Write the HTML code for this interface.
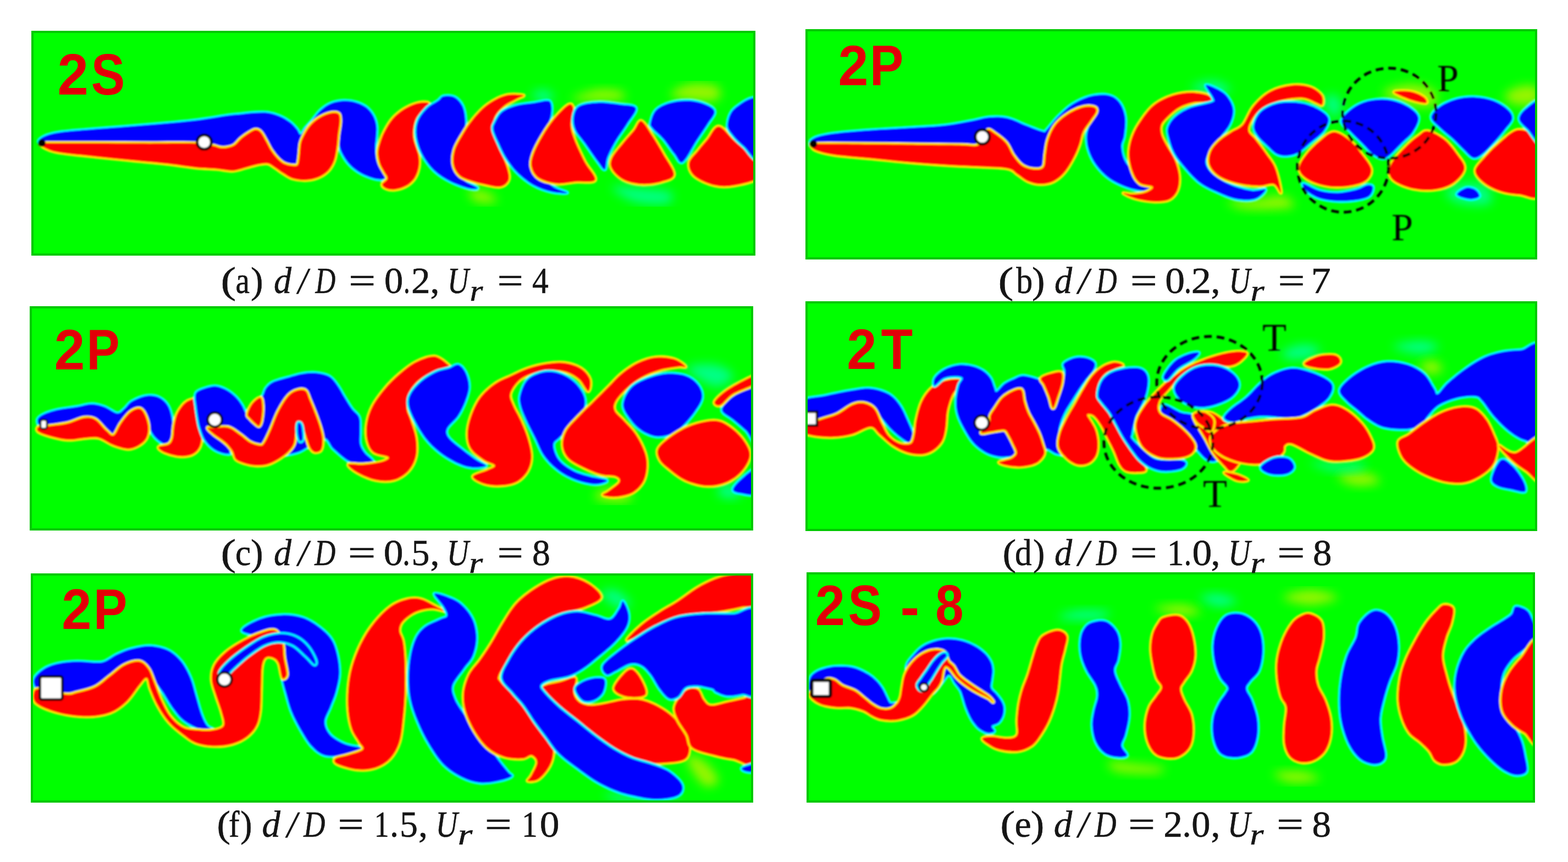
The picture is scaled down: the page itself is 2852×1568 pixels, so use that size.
<!DOCTYPE html><html><head><meta charset="utf-8"><title>Wake modes</title><style>
html,body{margin:0;padding:0;background:#fff;}body{width:2852px;height:1568px;overflow:hidden;position:relative;}
svg{position:absolute;left:0;top:0;display:block;}
.cap{font-family:"Liberation Serif",serif;fill:#151515;stroke:#151515;stroke-width:0.6px;}
.lab{font-family:"Liberation Sans",Arial,sans-serif;font-weight:bold;fill:#e20008;}
</style></head><body>
<svg width="2852" height="1568" viewBox="0 0 2852 1568">
<defs><filter id="soft" x="-2%" y="-2%" width="104%" height="104%"><feGaussianBlur stdDeviation="1.5"/></filter>
<filter id="haze" x="-50%" y="-50%" width="200%" height="200%"><feGaussianBlur stdDeviation="9"/></filter>
<clipPath id="clipa"><rect x="57" y="56" width="1317" height="409"/></clipPath>
<clipPath id="clipb"><rect x="1465" y="53" width="1331" height="419"/></clipPath>
<clipPath id="clipc"><rect x="54" y="557" width="1316" height="408"/></clipPath>
<clipPath id="clipd"><rect x="1465" y="548" width="1331" height="418"/></clipPath>
<clipPath id="clipe"><rect x="1467" y="1041" width="1325" height="419"/></clipPath>
<clipPath id="clipf"><rect x="56" y="1043" width="1314" height="417"/></clipPath>
</defs>
<g clip-path="url(#clipa)">
<rect x="57" y="56" width="1317" height="409" fill="#00ff00"/>
<g filter="url(#soft)">
<path d="M1040.0 180.0C1040.0 176.7 1071.7 165.6 1086.7 163.3C1101.7 161.1 1122.2 163.9 1130.0 166.7C1137.8 169.4 1140.6 177.2 1133.3 180.0C1126.1 182.8 1102.2 183.3 1086.7 183.3C1071.1 183.3 1040.0 183.3 1040.0 180.0Z" fill="#ffee00" filter="url(#haze)" opacity="0.6"/>
<path d="M1220.0 173.3C1217.2 168.3 1239.4 156.1 1253.3 153.3C1267.2 150.6 1294.4 152.2 1303.3 156.7C1312.2 161.1 1312.2 175.6 1306.7 180.0C1301.1 184.4 1284.4 184.4 1270.0 183.3C1255.6 182.2 1222.8 178.3 1220.0 173.3Z" fill="#ffee00" filter="url(#haze)" opacity="0.6"/>
<path d="M1113.3 340.0C1116.1 336.1 1152.2 341.7 1170.0 343.3C1187.8 345.0 1212.8 345.6 1220.0 350.0C1227.2 354.4 1224.4 367.2 1213.3 370.0C1202.2 372.8 1170.0 371.7 1153.3 366.7C1136.7 361.7 1110.6 343.9 1113.3 340.0Z" fill="#00ffe0" filter="url(#haze)" opacity="0.6"/>
<path d="M966.7 173.3C965.6 169.4 980.0 163.3 986.7 163.3C993.3 163.3 1005.6 169.4 1006.7 173.3C1007.8 177.2 1000.0 186.7 993.3 186.7C986.7 186.7 967.8 177.2 966.7 173.3Z" fill="#00ffe0" filter="url(#haze)" opacity="0.6"/>
<path d="M853.3 346.7C856.7 343.9 878.3 346.7 886.7 350.0C895.0 353.3 906.7 363.9 903.3 366.7C900.0 369.4 875.0 370.0 866.7 366.7C858.3 363.3 850.0 349.4 853.3 346.7Z" fill="#ffee00" filter="url(#haze)" opacity="0.6"/>
<path d="M70.7 258.3C69.0 255.9 74.0 251.2 80.0 248.3C86.0 245.4 93.9 243.1 106.7 241.0C119.4 238.9 137.2 237.7 156.7 236.0C176.1 234.3 201.1 232.4 223.3 230.7C245.6 228.9 267.8 227.3 290.0 225.3C312.2 223.3 335.7 221.3 356.7 218.7C377.6 216.1 401.8 211.6 415.5 209.7C429.2 207.8 431.1 208.2 438.8 207.4C446.6 206.6 454.1 205.4 462.1 205.0C470.2 204.7 479.2 204.0 487.0 205.0C494.8 206.1 502.0 208.4 508.7 211.3C515.5 214.1 522.2 218.3 527.4 222.1C532.6 226.0 536.6 230.8 539.8 234.6C543.0 238.3 544.2 244.9 546.8 244.7C549.4 244.4 551.8 237.3 555.3 233.0C558.8 228.7 563.1 224.5 567.8 219.0C572.4 213.6 577.6 205.6 583.3 200.4C589.0 195.2 595.0 190.8 601.9 188.0C608.9 185.1 617.5 183.6 625.2 183.3C633.0 183.0 641.6 184.3 648.5 186.4C655.5 188.5 662.0 191.6 667.2 195.7C672.4 199.9 676.6 205.6 679.6 211.3C682.6 217.0 684.3 223.4 685.0 229.9C685.8 236.4 684.7 243.6 684.3 250.1C683.9 256.6 682.6 261.7 682.7 268.7C682.8 275.7 683.4 285.3 685.0 292.0C686.7 298.8 690.2 304.1 692.8 309.1C695.4 314.2 700.2 319.5 700.6 322.3C701.0 325.2 698.6 325.8 695.1 326.2C691.7 326.6 686.1 326.5 679.6 324.7C673.1 322.8 663.6 319.5 656.3 315.3C649.1 311.2 641.8 305.8 636.1 299.8C630.4 293.9 625.4 286.1 622.1 279.6C618.9 273.1 617.5 268.0 616.7 261.0C615.9 254.0 617.9 246.0 617.5 237.7C617.1 229.4 618.3 214.9 614.4 211.3C610.5 207.6 602.7 211.0 594.2 215.9C585.6 220.8 570.9 232.0 563.1 240.8C555.3 249.6 551.5 259.4 547.6 268.7C543.7 278.1 546.3 292.6 539.8 296.7C533.3 300.8 520.4 300.8 508.7 293.6C497.1 286.3 482.8 256.8 469.9 253.2C457.0 249.6 442.7 268.2 431.1 271.8C419.4 275.5 412.4 275.3 400.0 275.0C387.6 274.6 377.8 271.1 356.7 270.0C335.6 268.9 303.9 269.2 273.3 268.3C242.8 267.5 203.9 265.9 173.3 265.0C142.8 264.1 107.1 263.8 90.0 262.7C72.9 261.6 72.3 260.7 70.7 258.3Z" fill="#0000ff" stroke="#00ffff" stroke-width="7" paint-order="stroke" stroke-linejoin="round"/>
<path d="M73.3 262.7C74.6 264.2 77.8 267.6 83.3 270.0C88.9 272.4 91.7 274.8 106.7 277.3C121.7 279.8 151.1 282.6 173.3 285.0C195.6 287.4 217.8 289.4 240.0 291.7C262.2 293.9 287.2 296.1 306.7 298.3C326.1 300.6 342.2 303.5 356.7 305.0C371.1 306.5 382.2 306.4 393.3 307.3C404.4 308.3 414.4 311.0 423.3 310.7C432.2 310.3 438.8 307.2 446.6 305.2C454.4 303.3 463.2 300.3 469.9 299.0C476.6 297.7 482.1 296.6 487.0 297.5C491.9 298.4 494.8 301.5 499.4 304.5C504.1 307.4 509.5 312.0 515.0 315.3C520.4 318.7 525.3 322.6 532.0 324.7C538.8 326.7 547.6 328.0 555.3 327.8C563.1 327.5 571.7 326.0 578.6 323.1C585.6 320.3 592.4 315.9 597.3 310.7C602.2 305.5 605.6 299.0 608.2 292.0C610.7 285.0 611.7 276.5 612.8 268.7C614.0 261.0 614.2 253.2 615.1 245.4C616.1 237.7 618.0 228.3 618.3 222.1C618.5 215.9 618.6 211.0 616.7 208.2C614.8 205.3 611.1 204.8 606.6 205.0C602.1 205.3 595.0 207.4 589.5 209.7C584.1 212.0 578.6 215.4 574.0 219.0C569.3 222.7 565.2 226.8 561.6 231.5C557.9 236.1 554.7 242.1 552.2 247.0C549.8 251.9 548.1 254.8 546.8 261.0C545.5 267.2 545.4 277.8 544.5 284.3C543.6 290.7 543.4 297.0 541.4 299.8C539.3 302.7 535.9 301.6 532.0 301.4C528.2 301.1 522.5 300.3 518.1 298.3C513.7 296.2 509.8 293.1 505.6 288.9C501.5 284.8 496.8 278.8 493.2 273.4C489.6 268.0 487.0 261.7 483.9 256.3C480.8 250.9 477.7 244.1 474.6 240.8C471.5 237.4 468.6 236.1 465.2 236.1C461.9 236.1 458.8 238.2 454.4 240.8C450.0 243.4 443.5 247.8 438.8 251.7C434.2 255.5 430.8 261.2 426.4 264.1C422.0 266.9 416.8 268.0 412.4 268.7C408.0 269.5 404.3 269.4 400.0 268.7C395.7 268.1 393.9 266.3 386.7 265.0C379.4 263.7 375.6 261.4 356.7 260.7C337.8 259.9 303.9 260.7 273.3 260.7C242.8 260.6 203.9 260.4 173.3 260.3C142.8 260.3 106.2 260.3 90.0 260.3C73.8 260.4 78.8 260.3 76.0 260.7C73.2 261.1 72.1 261.1 73.3 262.7Z" fill="#ff0000" stroke="#ffee00" stroke-width="7" paint-order="stroke" stroke-linejoin="round"/>
<path d="M777.5 186.4C773.9 185.4 764.5 185.9 757.3 188.0C750.0 190.0 741.2 194.2 734.0 198.8C726.7 203.5 719.5 209.4 713.8 215.9C708.1 222.4 703.4 230.9 699.8 237.7C696.2 244.4 694.1 249.8 692.0 256.3C690.0 262.8 687.6 269.8 687.4 276.5C687.1 283.2 688.7 290.7 690.5 296.7C692.3 302.7 695.9 307.6 698.3 312.2C700.6 316.9 705.0 320.8 704.5 324.7C703.9 328.5 695.4 332.4 695.1 335.5C694.9 338.6 699.0 341.7 702.9 343.3C706.8 344.9 712.5 345.6 718.4 344.9C724.4 344.1 732.7 342.0 738.6 338.6C744.6 335.3 750.3 330.4 754.2 324.7C758.1 319.0 760.6 311.2 761.9 304.5C763.2 297.7 762.7 290.2 761.9 284.3C761.2 278.3 758.8 273.9 757.3 268.7C755.7 263.6 753.5 258.4 752.6 253.2C751.7 248.0 751.3 243.4 751.8 237.7C752.4 232.0 753.5 224.5 755.7 219.0C757.9 213.6 761.2 209.2 765.0 205.0C768.9 200.9 777.0 197.3 779.0 194.2C781.1 191.1 781.1 187.4 777.5 186.4Z" fill="#ff0000" stroke="#ffee00" stroke-width="7" paint-order="stroke" stroke-linejoin="round"/>
<path d="M796.7 183.3C801.7 179.7 801.7 176.1 806.7 175.0C811.7 173.9 820.8 173.6 826.7 176.7C832.5 179.7 838.3 186.1 841.7 193.3C845.0 200.6 846.4 211.1 846.7 220.0C846.9 228.9 845.6 238.3 843.3 246.7C841.1 255.0 836.6 262.2 833.3 270.0C830.1 277.8 824.6 286.1 824.0 293.3C823.4 300.6 826.2 307.2 830.0 313.3C833.8 319.4 840.3 325.3 846.7 330.0C853.1 334.7 867.2 339.6 868.3 341.7C869.4 343.8 861.4 344.5 853.3 342.7C845.3 340.8 830.6 336.0 820.0 330.7C809.4 325.3 798.6 318.8 790.0 310.7C781.4 302.5 773.8 292.1 768.3 281.7C762.9 271.3 758.7 258.6 757.3 248.3C755.9 238.1 756.8 228.6 760.0 220.0C763.2 211.4 770.6 202.8 776.7 196.7C782.8 190.6 791.7 186.9 796.7 183.3Z" fill="#0000ff" stroke="#00ffff" stroke-width="7" paint-order="stroke" stroke-linejoin="round"/>
<path d="M951.7 173.3C948.3 172.2 930.8 170.6 920.0 173.3C909.2 176.1 896.7 182.8 886.7 190.0C876.7 197.2 867.8 207.2 860.0 216.7C852.2 226.1 845.6 237.2 840.0 246.7C834.4 256.1 829.2 264.4 826.7 273.3C824.2 282.2 823.3 292.2 825.0 300.0C826.7 307.8 830.8 315.0 836.7 320.0C842.5 325.0 851.7 327.2 860.0 330.0C868.3 332.8 878.6 335.0 886.7 336.7C894.7 338.3 902.5 340.6 908.3 340.0C914.2 339.4 918.7 336.7 921.7 333.3C924.6 330.0 926.6 326.7 926.0 320.0C925.4 313.3 921.7 302.2 918.3 293.3C915.0 284.4 909.6 275.6 906.0 266.7C902.4 257.8 897.7 248.9 896.7 240.0C895.7 231.1 896.7 221.1 900.0 213.3C903.3 205.6 910.0 198.9 916.7 193.3C923.3 187.8 934.2 183.3 940.0 180.0C945.8 176.7 955.0 174.4 951.7 173.3Z" fill="#ff0000" stroke="#ffee00" stroke-width="7" paint-order="stroke" stroke-linejoin="round"/>
<path d="M900.0 223.3C902.7 217.8 906.7 208.6 913.3 203.3C920.0 198.1 930.0 194.4 940.0 191.7C950.0 188.9 964.4 188.1 973.3 186.7C982.2 185.3 988.6 183.3 993.3 183.3C998.1 183.3 1000.0 183.3 1001.7 186.7C1003.3 190.0 1003.9 197.2 1003.3 203.3C1002.8 209.4 1001.4 215.8 998.3 223.3C995.3 230.8 989.6 240.0 985.0 248.3C980.4 256.7 973.4 265.6 970.7 273.3C967.9 281.1 966.5 287.5 968.3 295.0C970.2 302.5 975.3 310.8 981.7 318.3C988.1 325.8 998.3 334.6 1006.7 340.0C1015.0 345.4 1032.2 349.2 1031.7 350.7C1031.1 352.2 1013.6 351.3 1003.3 349.0C993.1 346.7 980.6 342.6 970.0 336.7C959.4 330.7 948.3 321.7 940.0 313.3C931.7 305.0 925.6 295.6 920.0 286.7C914.4 277.8 910.4 268.3 906.7 260.0C902.9 251.7 898.4 242.8 897.3 236.7C896.2 230.6 897.3 228.9 900.0 223.3Z" fill="#0000ff" stroke="#00ffff" stroke-width="7" paint-order="stroke" stroke-linejoin="round"/>
<path d="M1035.0 190.0C1040.6 187.8 1042.8 193.9 1043.3 200.0C1043.9 206.1 1038.1 217.8 1038.3 226.7C1038.6 235.6 1040.8 242.2 1045.0 253.3C1049.2 264.4 1057.1 281.0 1063.3 293.3C1069.6 305.7 1085.4 321.1 1082.7 327.3C1079.9 333.6 1058.2 329.6 1046.7 330.7C1035.1 331.8 1024.4 335.1 1013.3 334.0C1002.2 332.9 987.8 329.1 980.0 324.0C972.2 318.9 968.3 310.7 966.7 303.3C965.0 296.0 966.7 289.4 970.0 280.0C973.3 270.6 980.0 257.8 986.7 246.7C993.3 235.6 1001.9 222.8 1010.0 213.3C1018.1 203.9 1029.4 192.2 1035.0 190.0Z" fill="#ff0000" stroke="#ffee00" stroke-width="7" paint-order="stroke" stroke-linejoin="round"/>
<path d="M1043.3 213.3C1044.4 206.1 1046.1 197.8 1053.3 193.3C1060.6 188.9 1074.4 187.2 1086.7 186.7C1098.9 186.1 1115.0 188.3 1126.7 190.0C1138.3 191.7 1154.4 190.6 1156.7 196.7C1158.9 202.8 1146.1 216.7 1140.0 226.7C1133.9 236.7 1125.8 246.7 1120.0 256.7C1114.2 266.7 1108.3 278.1 1105.0 286.7C1101.7 295.3 1103.1 307.2 1100.0 308.3C1096.9 309.4 1092.8 301.4 1086.7 293.3C1080.6 285.3 1070.0 269.4 1063.3 260.0C1056.7 250.6 1050.0 244.4 1046.7 236.7C1043.3 228.9 1042.2 220.6 1043.3 213.3Z" fill="#0000ff" stroke="#00ffff" stroke-width="7" paint-order="stroke" stroke-linejoin="round"/>
<path d="M1166.7 220.0C1172.2 221.7 1180.0 236.7 1186.7 246.7C1193.3 256.7 1200.1 268.2 1206.7 280.0C1213.2 291.8 1226.6 308.9 1226.0 317.3C1225.4 325.8 1213.2 327.7 1203.3 330.7C1193.4 333.6 1178.3 335.7 1166.7 335.0C1155.0 334.3 1142.3 331.4 1133.3 326.7C1124.3 321.9 1116.0 313.3 1112.7 306.7C1109.3 300.0 1109.9 294.4 1113.3 286.7C1116.8 278.9 1126.7 268.3 1133.3 260.0C1140.0 251.7 1147.8 243.3 1153.3 236.7C1158.9 230.0 1161.1 218.3 1166.7 220.0Z" fill="#ff0000" stroke="#ffee00" stroke-width="7" paint-order="stroke" stroke-linejoin="round"/>
<path d="M1183.3 223.3C1184.4 217.8 1187.2 206.1 1193.3 200.0C1199.4 193.9 1210.0 189.4 1220.0 186.7C1230.0 183.9 1242.8 182.8 1253.3 183.3C1263.9 183.9 1275.6 186.7 1283.3 190.0C1291.1 193.3 1299.4 197.2 1300.0 203.3C1300.6 209.4 1292.2 217.8 1286.7 226.7C1281.1 235.6 1274.2 245.3 1266.7 256.7C1259.2 268.1 1248.3 291.1 1241.7 295.0C1235.0 298.9 1232.5 286.9 1226.7 280.0C1220.8 273.1 1213.3 261.1 1206.7 253.3C1200.0 245.6 1190.6 238.3 1186.7 233.3C1182.8 228.3 1182.2 228.9 1183.3 223.3Z" fill="#0000ff" stroke="#00ffff" stroke-width="7" paint-order="stroke" stroke-linejoin="round"/>
<path d="M1307.3 230.0C1315.7 230.6 1324.6 245.6 1336.7 256.7C1348.8 267.8 1372.8 285.6 1380.0 296.7C1387.2 307.8 1387.2 316.6 1380.0 323.3C1372.8 330.1 1350.0 335.0 1336.7 337.3C1323.3 339.7 1312.2 340.1 1300.0 337.3C1287.8 334.6 1271.1 327.4 1263.3 320.7C1255.6 313.9 1252.2 304.6 1253.3 296.7C1254.4 288.8 1264.4 280.6 1270.0 273.3C1275.6 266.1 1280.4 260.6 1286.7 253.3C1292.9 246.1 1299.0 229.4 1307.3 230.0Z" fill="#ff0000" stroke="#ffee00" stroke-width="7" paint-order="stroke" stroke-linejoin="round"/>
<path d="M1323.3 226.7C1323.9 218.3 1327.2 203.9 1336.7 196.7C1346.1 189.4 1372.8 168.3 1380.0 183.3C1387.2 198.3 1384.4 272.8 1380.0 286.7C1375.6 300.6 1361.1 273.3 1353.3 266.7C1345.6 260.0 1338.3 253.3 1333.3 246.7C1328.3 240.0 1322.8 235.0 1323.3 226.7Z" fill="#0000ff" stroke="#00ffff" stroke-width="7" paint-order="stroke" stroke-linejoin="round"/>
<circle cx="76" cy="260" r="7" fill="#000"/>
<circle cx="371.5" cy="258.5" r="13" fill="#fff" stroke="#000" stroke-width="5"/>
</g>
<rect x="59.0" y="58.0" width="1313" height="405" fill="none" stroke="#00c800" stroke-width="4"/>
</g>
<g clip-path="url(#clipb)">
<rect x="1465" y="53" width="1331" height="419" fill="#00ff00"/>
<g filter="url(#soft)">
<path d="M2516.7 166.7C2519.4 161.1 2551.1 153.3 2566.7 153.3C2582.2 153.3 2603.9 160.0 2610.0 166.7C2616.1 173.3 2613.3 190.0 2603.3 193.3C2593.3 196.7 2564.4 191.1 2550.0 186.7C2535.6 182.2 2513.9 172.2 2516.7 166.7Z" fill="#ffee00" filter="url(#haze)" opacity="0.6"/>
<path d="M2736.7 173.3C2738.3 167.8 2756.7 158.9 2766.7 156.7C2776.7 154.4 2791.7 155.0 2796.7 160.0C2801.7 165.0 2803.3 181.7 2796.7 186.7C2790.0 191.7 2766.7 192.2 2756.7 190.0C2746.7 187.8 2735.0 178.9 2736.7 173.3Z" fill="#ffee00" filter="url(#haze)" opacity="0.6"/>
<path d="M2630.0 350.0C2631.7 343.9 2654.4 335.0 2666.7 333.3C2678.9 331.7 2696.1 333.9 2703.3 340.0C2710.6 346.1 2717.8 365.0 2710.0 370.0C2702.2 375.0 2670.0 373.3 2656.7 370.0C2643.3 366.7 2628.3 356.1 2630.0 350.0Z" fill="#00ffe0" filter="url(#haze)" opacity="0.6"/>
<path d="M2410.0 180.0C2411.1 173.3 2425.0 170.6 2430.0 173.3C2435.0 176.1 2441.1 190.0 2440.0 196.7C2438.9 203.3 2428.3 216.1 2423.3 213.3C2418.3 210.6 2408.9 186.7 2410.0 180.0Z" fill="#00ffe0" filter="url(#haze)" opacity="0.6"/>
<path d="M2233.3 366.7C2236.1 363.9 2266.7 365.0 2283.3 363.3C2300.0 361.7 2322.2 354.4 2333.3 356.7C2344.4 358.9 2361.1 372.8 2350.0 376.7C2338.9 380.6 2286.1 381.7 2266.7 380.0C2247.2 378.3 2230.6 369.4 2233.3 366.7Z" fill="#ffee00" filter="url(#haze)" opacity="0.6"/>
<path d="M2166.7 160.0C2164.4 155.6 2191.7 146.7 2203.3 146.7C2215.0 146.7 2234.4 155.6 2236.7 160.0C2238.9 164.4 2228.3 173.3 2216.7 173.3C2205.0 173.3 2168.9 164.4 2166.7 160.0Z" fill="#00ffe0" filter="url(#haze)" opacity="0.6"/>
<path d="M1473.3 260.0C1473.3 257.2 1476.1 252.9 1483.3 250.0C1490.6 247.1 1500.0 244.9 1516.7 242.7C1533.3 240.4 1561.1 238.3 1583.3 236.7C1605.6 235.0 1627.8 234.1 1650.0 232.7C1672.2 231.3 1697.2 230.4 1716.7 228.3C1736.1 226.2 1752.8 222.5 1766.7 220.0C1780.6 217.5 1788.9 214.2 1800.0 213.3C1811.1 212.5 1822.2 212.5 1833.3 215.0C1844.4 217.5 1856.1 224.3 1866.7 228.3C1877.2 232.4 1890.6 237.9 1896.7 239.3C1902.8 240.7 1898.9 241.0 1903.3 236.7C1907.8 232.3 1915.6 221.1 1923.3 213.3C1931.1 205.6 1940.0 196.4 1950.0 190.0C1960.0 183.6 1972.2 177.8 1983.3 175.0C1994.4 172.2 2007.8 171.4 2016.7 173.3C2025.6 175.3 2031.7 180.0 2036.7 186.7C2041.7 193.3 2045.3 203.3 2046.7 213.3C2048.1 223.3 2046.1 237.8 2045.0 246.7C2043.9 255.6 2039.7 258.9 2040.0 266.7C2040.3 274.4 2042.2 285.0 2046.7 293.3C2051.1 301.7 2059.4 310.0 2066.7 316.7C2073.9 323.3 2084.4 329.2 2090.0 333.3C2095.6 337.5 2101.1 339.3 2100.0 341.7C2098.9 344.0 2091.7 347.5 2083.3 347.3C2075.0 347.2 2061.1 344.6 2050.0 340.7C2038.9 336.8 2026.1 330.8 2016.7 324.0C2007.2 317.2 1999.4 308.4 1993.3 300.0C1987.2 291.6 1982.8 282.2 1980.0 273.3C1977.2 264.4 1976.1 255.0 1976.7 246.7C1977.2 238.3 1980.6 230.0 1983.3 223.3C1986.1 216.7 1996.1 210.6 1993.3 206.7C1990.6 202.8 1979.4 194.4 1966.7 200.0C1953.9 205.6 1927.2 222.2 1916.7 240.0C1906.1 257.8 1911.7 295.6 1903.3 306.7C1895.0 317.8 1878.3 312.2 1866.7 306.7C1855.0 301.1 1844.4 282.2 1833.3 273.3C1822.2 264.4 1813.9 254.2 1800.0 253.3C1786.1 252.5 1775.0 265.6 1750.0 268.3C1725.0 271.1 1683.3 269.7 1650.0 270.0C1616.7 270.3 1577.8 270.6 1550.0 270.0C1522.2 269.4 1496.1 268.3 1483.3 266.7C1470.6 265.0 1473.3 262.8 1473.3 260.0Z" fill="#0000ff" stroke="#00ffff" stroke-width="7" paint-order="stroke" stroke-linejoin="round"/>
<path d="M1475.0 263.3C1475.0 265.3 1476.4 270.3 1483.3 273.3C1490.3 276.4 1500.0 279.2 1516.7 281.7C1533.3 284.2 1561.1 286.1 1583.3 288.3C1605.6 290.6 1627.8 293.1 1650.0 295.0C1672.2 296.9 1694.4 298.6 1716.7 300.0C1738.9 301.4 1763.9 302.2 1783.3 303.3C1802.8 304.4 1822.2 304.4 1833.3 306.7C1844.4 308.9 1843.9 312.8 1850.0 316.7C1856.1 320.6 1862.8 326.9 1870.0 330.0C1877.2 333.1 1885.6 335.0 1893.3 335.0C1901.1 335.0 1909.4 333.6 1916.7 330.0C1923.9 326.4 1930.6 320.6 1936.7 313.3C1942.8 306.1 1948.9 295.0 1953.3 286.7C1957.8 278.3 1960.6 271.1 1963.3 263.3C1966.1 255.6 1966.7 247.2 1970.0 240.0C1973.3 232.8 1979.3 226.1 1983.3 220.0C1987.3 213.9 1992.9 207.5 1994.0 203.3C1995.1 199.2 1994.0 196.4 1990.0 195.0C1986.0 193.6 1977.8 193.1 1970.0 195.0C1962.2 196.9 1951.7 201.4 1943.3 206.7C1935.0 211.9 1926.1 218.9 1920.0 226.7C1913.9 234.4 1909.7 244.4 1906.7 253.3C1903.6 262.2 1903.1 271.7 1901.7 280.0C1900.3 288.3 1901.4 298.6 1898.3 303.3C1895.3 308.1 1889.7 308.6 1883.3 308.3C1876.9 308.1 1866.7 305.8 1860.0 301.7C1853.3 297.5 1848.3 290.3 1843.3 283.3C1838.3 276.4 1835.6 266.7 1830.0 260.0C1824.4 253.3 1815.6 247.2 1810.0 243.3C1804.4 239.4 1800.0 235.0 1796.7 236.7C1793.3 238.3 1793.3 248.6 1790.0 253.3C1786.7 258.1 1783.3 263.2 1776.7 265.0C1770.0 266.8 1771.1 264.4 1750.0 264.0C1728.9 263.6 1683.3 263.1 1650.0 262.7C1616.7 262.3 1577.8 261.8 1550.0 261.7C1522.2 261.5 1495.8 261.4 1483.3 261.7C1470.8 261.9 1475.0 261.4 1475.0 263.3Z" fill="#ff0000" stroke="#ffee00" stroke-width="7" paint-order="stroke" stroke-linejoin="round"/>
<path d="M2196.7 173.3C2190.4 170.7 2177.2 168.3 2166.7 168.3C2156.1 168.3 2144.4 169.7 2133.3 173.3C2122.2 176.9 2109.4 182.8 2100.0 190.0C2090.6 197.2 2083.3 207.2 2076.7 216.7C2070.0 226.1 2063.9 236.1 2060.0 246.7C2056.1 257.2 2053.3 268.9 2053.3 280.0C2053.3 291.1 2056.7 304.4 2060.0 313.3C2063.3 322.2 2067.2 328.9 2073.3 333.3C2079.4 337.8 2095.0 337.2 2096.7 340.0C2098.3 342.8 2089.4 347.8 2083.3 350.0C2077.2 352.2 2066.7 353.1 2060.0 353.3C2053.3 353.6 2042.2 350.3 2043.3 351.7C2044.4 353.1 2057.2 359.2 2066.7 361.7C2076.1 364.2 2090.0 366.4 2100.0 366.7C2110.0 366.9 2119.7 366.7 2126.7 363.3C2133.6 360.0 2138.6 353.9 2141.7 346.7C2144.7 339.4 2145.8 329.4 2145.0 320.0C2144.2 310.6 2140.3 298.9 2136.7 290.0C2133.1 281.1 2127.2 273.9 2123.3 266.7C2119.4 259.4 2115.3 252.8 2113.3 246.7C2111.4 240.6 2110.6 235.0 2111.7 230.0C2112.8 225.0 2114.7 222.2 2120.0 216.7C2125.3 211.1 2135.0 201.7 2143.3 196.7C2151.7 191.7 2159.9 188.8 2170.0 186.7C2180.1 184.6 2199.6 186.2 2204.0 184.0C2208.4 181.8 2202.9 175.9 2196.7 173.3Z" fill="#ff0000" stroke="#ffee00" stroke-width="7" paint-order="stroke" stroke-linejoin="round"/>
<path d="M2193.3 155.0C2195.0 152.5 2210.0 159.7 2216.7 163.3C2223.3 166.9 2228.9 170.6 2233.3 176.7C2237.8 182.8 2242.8 191.7 2243.3 200.0C2243.9 208.3 2241.1 217.8 2236.7 226.7C2232.2 235.6 2223.2 244.4 2216.7 253.3C2210.1 262.2 2201.1 272.2 2197.3 280.0C2193.6 287.8 2191.9 293.3 2194.0 300.0C2196.1 306.7 2202.3 313.9 2210.0 320.0C2217.7 326.1 2228.9 332.2 2240.0 336.7C2251.1 341.1 2266.4 345.3 2276.7 346.7C2286.9 348.1 2300.6 342.5 2301.7 345.0C2302.8 347.5 2291.9 358.8 2283.3 361.7C2274.7 364.6 2261.1 364.2 2250.0 362.3C2238.9 360.5 2227.8 355.5 2216.7 350.7C2205.6 345.8 2193.3 340.7 2183.3 333.3C2173.3 326.0 2164.4 315.6 2156.7 306.7C2148.9 297.8 2141.7 288.9 2136.7 280.0C2131.7 271.1 2128.8 261.1 2126.7 253.3C2124.6 245.6 2122.3 240.0 2124.0 233.3C2125.7 226.7 2130.1 219.4 2136.7 213.3C2143.2 207.2 2152.1 201.2 2163.3 196.7C2174.6 192.1 2196.8 189.1 2204.0 186.0C2211.2 182.9 2208.4 183.5 2206.7 178.3C2204.9 173.2 2191.7 157.5 2193.3 155.0Z" fill="#0000ff" stroke="#00ffff" stroke-width="7" paint-order="stroke" stroke-linejoin="round"/>
<path d="M2330.0 350.0C2330.6 345.3 2324.4 318.3 2320.0 306.7C2315.6 295.0 2309.4 288.9 2303.3 280.0C2297.2 271.1 2288.8 260.6 2283.3 253.3C2277.9 246.1 2271.2 243.3 2270.7 236.7C2270.1 230.0 2275.1 220.4 2280.0 213.3C2284.9 206.2 2291.1 199.3 2300.0 194.0C2308.9 188.7 2321.7 184.3 2333.3 181.7C2345.0 179.1 2360.0 177.5 2370.0 178.3C2380.0 179.2 2387.5 184.6 2393.3 186.7C2399.2 188.7 2403.2 192.9 2405.0 190.7C2406.8 188.4 2407.6 178.7 2404.0 173.3C2400.4 167.9 2392.3 161.4 2383.3 158.3C2374.3 155.3 2362.2 153.6 2350.0 155.0C2337.8 156.4 2321.7 160.3 2310.0 166.7C2298.3 173.1 2288.2 183.3 2280.0 193.3C2271.8 203.3 2267.3 218.9 2260.7 226.7C2254.0 234.4 2247.3 235.0 2240.0 240.0C2232.7 245.0 2223.1 250.6 2216.7 256.7C2210.3 262.8 2204.4 269.4 2201.7 276.7C2198.9 283.9 2197.5 292.8 2200.0 300.0C2202.5 307.2 2208.3 314.4 2216.7 320.0C2225.0 325.6 2237.8 330.3 2250.0 333.3C2262.2 336.4 2278.9 338.1 2290.0 338.3C2301.1 338.6 2310.0 333.1 2316.7 335.0C2323.3 336.9 2329.4 354.7 2330.0 350.0Z" fill="#ff0000" stroke="#ffee00" stroke-width="7" paint-order="stroke" stroke-linejoin="round"/>
<path d="M2280.7 228.3C2281.7 221.1 2286.2 210.0 2293.3 203.3C2300.4 196.7 2312.2 191.1 2323.3 188.3C2334.4 185.6 2349.4 185.8 2360.0 186.7C2370.6 187.5 2378.3 190.0 2386.7 193.3C2395.0 196.7 2405.0 202.2 2410.0 206.7C2415.0 211.1 2417.2 214.4 2416.7 220.0C2416.1 225.6 2412.2 233.3 2406.7 240.0C2401.1 246.7 2390.6 253.9 2383.3 260.0C2376.1 266.1 2370.0 272.8 2363.3 276.7C2356.7 280.6 2350.0 282.7 2343.3 283.3C2336.7 284.0 2329.4 283.4 2323.3 280.7C2317.2 277.9 2312.7 272.3 2306.7 266.7C2300.7 261.0 2291.7 253.1 2287.3 246.7C2283.0 240.3 2279.7 235.6 2280.7 228.3Z" fill="#0000ff" stroke="#00ffff" stroke-width="7" paint-order="stroke" stroke-linejoin="round"/>
<path d="M2426.7 240.0C2436.1 240.0 2448.3 250.0 2456.7 256.7C2465.0 263.3 2470.4 271.7 2476.7 280.0C2482.9 288.3 2492.3 298.9 2494.0 306.7C2495.7 314.4 2491.8 321.7 2486.7 326.7C2481.6 331.7 2473.3 334.4 2463.3 336.7C2453.3 338.9 2438.3 340.6 2426.7 340.0C2415.0 339.4 2402.8 336.7 2393.3 333.3C2383.9 330.0 2375.0 325.0 2370.0 320.0C2365.0 315.0 2362.2 310.0 2363.3 303.3C2364.4 296.7 2370.6 287.8 2376.7 280.0C2382.8 272.2 2391.7 263.3 2400.0 256.7C2408.3 250.0 2417.2 240.0 2426.7 240.0Z" fill="#ff0000" stroke="#ffee00" stroke-width="7" paint-order="stroke" stroke-linejoin="round"/>
<path d="M2370.7 334.0C2374.6 333.9 2389.6 343.9 2400.0 346.7C2410.4 349.4 2422.2 350.9 2433.3 350.7C2444.4 350.4 2457.7 347.3 2466.7 345.0C2475.7 342.7 2482.2 337.4 2487.3 336.7C2492.4 335.9 2496.8 337.3 2497.3 340.7C2497.9 344.0 2495.8 352.8 2490.7 356.7C2485.6 360.6 2476.2 362.5 2466.7 364.0C2457.1 365.5 2444.4 366.2 2433.3 365.7C2422.2 365.1 2409.4 363.7 2400.0 360.7C2390.6 357.6 2381.6 351.8 2376.7 347.3C2371.8 342.9 2366.8 334.1 2370.7 334.0Z" fill="#0000ff" stroke="#00ffff" stroke-width="7" paint-order="stroke" stroke-linejoin="round"/>
<path d="M2440.0 220.0C2440.6 212.8 2451.7 202.8 2460.0 196.7C2468.3 190.6 2478.9 185.8 2490.0 183.3C2501.1 180.8 2515.0 180.0 2526.7 181.7C2538.3 183.3 2551.1 188.1 2560.0 193.3C2568.9 198.6 2578.3 205.6 2580.0 213.3C2581.7 221.1 2575.0 232.2 2570.0 240.0C2565.0 247.8 2557.2 252.8 2550.0 260.0C2542.8 267.2 2532.8 278.6 2526.7 283.3C2520.6 288.1 2518.3 288.9 2513.3 288.3C2508.3 287.8 2502.8 284.7 2496.7 280.0C2490.6 275.3 2483.3 266.7 2476.7 260.0C2470.0 253.3 2462.8 246.7 2456.7 240.0C2450.6 233.3 2439.4 227.2 2440.0 220.0Z" fill="#0000ff" stroke="#00ffff" stroke-width="7" paint-order="stroke" stroke-linejoin="round"/>
<path d="M2536.7 166.7C2540.0 165.4 2557.8 165.0 2566.7 166.7C2575.6 168.3 2585.4 173.2 2590.0 176.7C2594.6 180.1 2596.8 186.1 2594.0 187.3C2591.2 188.6 2581.2 186.2 2573.3 184.0C2565.4 181.8 2552.8 176.9 2546.7 174.0C2540.6 171.1 2533.3 167.9 2536.7 166.7Z" fill="#ff0000" stroke="#ffee00" stroke-width="7" paint-order="stroke" stroke-linejoin="round"/>
<path d="M2596.7 238.3C2604.4 239.4 2617.8 246.4 2626.7 253.3C2635.6 260.3 2643.8 271.1 2650.0 280.0C2656.2 288.9 2665.1 297.8 2664.0 306.7C2662.9 315.6 2652.3 326.9 2643.3 333.3C2634.3 339.7 2622.2 343.3 2610.0 345.0C2597.8 346.7 2582.2 345.8 2570.0 343.3C2557.8 340.8 2543.9 335.0 2536.7 330.0C2529.4 325.0 2527.2 319.4 2526.7 313.3C2526.1 307.2 2528.3 301.1 2533.3 293.3C2538.3 285.6 2548.9 274.4 2556.7 266.7C2564.4 258.9 2573.3 251.4 2580.0 246.7C2586.7 241.9 2588.9 237.2 2596.7 238.3Z" fill="#ff0000" stroke="#ffee00" stroke-width="7" paint-order="stroke" stroke-linejoin="round"/>
<path d="M2603.3 213.3C2603.3 206.7 2612.2 198.9 2620.0 193.3C2627.8 187.8 2639.4 182.8 2650.0 180.0C2660.6 177.2 2672.2 176.1 2683.3 176.7C2694.4 177.2 2706.7 179.4 2716.7 183.3C2726.7 187.2 2737.7 194.4 2743.3 200.0C2749.0 205.6 2751.8 210.6 2750.7 216.7C2749.6 222.8 2742.3 229.4 2736.7 236.7C2731.0 243.9 2723.3 252.8 2716.7 260.0C2710.0 267.2 2702.8 275.4 2696.7 280.0C2690.6 284.6 2685.6 288.4 2680.0 287.3C2674.4 286.2 2669.4 279.0 2663.3 273.3C2657.2 267.7 2650.6 260.0 2643.3 253.3C2636.1 246.7 2626.7 240.0 2620.0 233.3C2613.3 226.7 2603.3 220.0 2603.3 213.3Z" fill="#0000ff" stroke="#00ffff" stroke-width="7" paint-order="stroke" stroke-linejoin="round"/>
<path d="M2756.7 237.3C2766.1 234.0 2775.6 238.4 2783.3 240.0C2791.1 241.6 2800.0 228.1 2803.3 246.7C2806.7 265.3 2810.0 333.8 2803.3 351.7C2796.7 369.6 2776.1 354.7 2763.3 354.0C2750.6 353.3 2737.8 351.2 2726.7 347.3C2715.6 343.4 2703.9 336.9 2696.7 330.7C2689.4 324.4 2682.8 317.3 2683.3 310.0C2683.9 302.7 2692.8 295.0 2700.0 286.7C2707.2 278.3 2717.2 268.2 2726.7 260.0C2736.1 251.8 2747.2 240.7 2756.7 237.3Z" fill="#ff0000" stroke="#ffee00" stroke-width="7" paint-order="stroke" stroke-linejoin="round"/>
<path d="M2763.3 216.7C2762.8 210.0 2770.0 201.7 2776.7 196.7C2783.3 191.7 2798.9 176.1 2803.3 186.7C2807.8 197.2 2807.2 251.7 2803.3 260.0C2799.4 268.3 2786.7 243.9 2780.0 236.7C2773.3 229.4 2763.9 223.3 2763.3 216.7Z" fill="#0000ff" stroke="#00ffff" stroke-width="7" paint-order="stroke" stroke-linejoin="round"/>
<path d="M2650.0 354.0C2648.9 350.6 2661.1 343.2 2666.7 341.7C2672.2 340.2 2679.3 342.4 2683.3 345.0C2687.3 347.6 2692.3 354.4 2690.7 357.3C2689.0 360.2 2680.1 362.9 2673.3 362.3C2666.6 361.8 2651.1 357.4 2650.0 354.0Z" fill="#0000ff" stroke="#00ffff" stroke-width="7" paint-order="stroke" stroke-linejoin="round"/>
<circle cx="1479.3" cy="261.7" r="7" fill="#000"/>
<circle cx="1786.7" cy="249" r="13" fill="#fff" stroke="#000" stroke-width="5"/>
<ellipse cx="2527" cy="206" rx="85" ry="82" fill="none" stroke="#000" stroke-width="5" stroke-dasharray="14 9"/>
<ellipse cx="2443" cy="303" rx="83" ry="83" fill="none" stroke="#000" stroke-width="5" stroke-dasharray="14 9"/>
<text x="2614" y="166" font-family="Liberation Serif,serif" font-size="70" fill="#000">P</text>
<text x="2531" y="437" font-family="Liberation Serif,serif" font-size="70" fill="#000">P</text>
</g>
<rect x="1467.0" y="55.0" width="1327" height="415" fill="none" stroke="#00c800" stroke-width="4"/>
</g>
<g clip-path="url(#clipc)">
<rect x="54" y="557" width="1316" height="408" fill="#00ff00"/>
<g filter="url(#soft)">
<path d="M1250.0 670.0C1250.0 663.3 1286.1 661.1 1300.0 663.3C1313.9 665.6 1333.3 676.7 1333.3 683.3C1333.3 690.0 1313.9 705.6 1300.0 703.3C1286.1 701.1 1250.0 676.7 1250.0 670.0Z" fill="#00ffe0" filter="url(#haze)" opacity="0.6"/>
<path d="M1100.0 890.0C1111.1 888.9 1144.4 896.1 1150.0 900.0C1155.6 903.9 1144.4 912.2 1133.3 913.3C1122.2 914.4 1088.9 910.6 1083.3 906.7C1077.8 902.8 1088.9 891.1 1100.0 890.0Z" fill="#ffee00" filter="url(#haze)" opacity="0.6"/>
<path d="M1316.7 880.0C1323.9 878.9 1347.2 888.9 1350.0 893.3C1352.8 897.8 1340.6 905.6 1333.3 906.7C1326.1 907.8 1309.4 904.4 1306.7 900.0C1303.9 895.6 1309.4 881.1 1316.7 880.0Z" fill="#00ffe0" filter="url(#haze)" opacity="0.6"/>
<path d="M68.3 763.3C69.4 759.7 73.6 756.4 80.0 753.3C86.4 750.3 96.7 747.2 106.7 745.0C116.7 742.8 130.0 741.7 140.0 740.0C150.0 738.3 158.3 735.0 166.7 735.0C175.0 735.0 182.2 737.2 190.0 740.0C197.8 742.8 207.2 751.1 213.3 751.7C219.4 752.2 222.2 746.9 226.7 743.3C231.1 739.7 233.3 733.9 240.0 730.0C246.7 726.1 258.3 721.1 266.7 720.0C275.0 718.9 283.3 720.0 290.0 723.3C296.7 726.7 302.7 732.2 306.7 740.0C310.7 747.8 313.0 760.6 314.0 770.0C315.0 779.4 313.2 790.4 312.7 796.7C312.1 802.9 313.3 805.7 310.7 807.3C308.0 809.0 301.8 809.0 296.7 806.7C291.6 804.3 284.4 798.9 280.0 793.3C275.6 787.8 272.8 780.0 270.0 773.3C267.2 766.7 266.1 758.3 263.3 753.3C260.6 748.3 257.8 743.9 253.3 743.3C248.9 742.8 242.2 745.6 236.7 750.0C231.1 754.4 225.0 763.3 220.0 770.0C215.0 776.7 211.1 787.8 206.7 790.0C202.2 792.2 198.9 787.8 193.3 783.3C187.8 778.9 180.0 767.2 173.3 763.3C166.7 759.4 161.7 758.9 153.3 760.0C145.0 761.1 133.9 767.5 123.3 770.0C112.8 772.5 98.3 774.2 90.0 775.0C81.7 775.8 76.9 776.9 73.3 775.0C69.7 773.1 67.2 766.9 68.3 763.3Z" fill="#0000ff" stroke="#00ffff" stroke-width="7" paint-order="stroke" stroke-linejoin="round"/>
<path d="M70.0 776.7C73.4 775.0 81.1 776.1 90.0 775.0C98.9 773.9 112.8 772.5 123.3 770.0C133.9 767.5 145.0 761.1 153.3 760.0C161.7 758.9 166.7 759.4 173.3 763.3C180.0 767.2 187.8 778.6 193.3 783.3C198.9 788.1 202.2 793.9 206.7 791.7C211.1 789.4 215.0 776.9 220.0 770.0C225.0 763.1 231.1 754.4 236.7 750.0C242.2 745.6 248.9 742.8 253.3 743.3C257.8 743.9 260.6 747.8 263.3 753.3C266.1 758.9 269.4 769.4 270.0 776.7C270.6 783.9 269.4 791.1 266.7 796.7C263.9 802.2 258.9 806.7 253.3 810.0C247.8 813.3 241.1 816.7 233.3 816.7C225.6 816.7 215.6 813.3 206.7 810.0C197.8 806.7 188.3 798.9 180.0 796.7C171.7 794.4 166.1 796.1 156.7 796.7C147.2 797.2 134.4 800.6 123.3 800.0C112.2 799.4 99.0 795.8 90.0 793.3C81.0 790.8 72.7 787.8 69.3 785.0C66.0 782.2 66.6 778.3 70.0 776.7Z" fill="#ff0000" stroke="#ffee00" stroke-width="7" paint-order="stroke" stroke-linejoin="round"/>
<path d="M365.0 723.3C360.3 723.6 346.9 725.6 340.0 730.0C333.1 734.4 327.2 742.8 323.3 750.0C319.4 757.2 318.2 765.6 316.7 773.3C315.1 781.1 315.7 790.8 314.0 796.7C312.3 802.5 310.9 805.6 306.7 808.3C302.4 811.1 289.4 810.8 288.3 813.3C287.2 815.8 293.6 820.6 300.0 823.3C306.4 826.1 318.3 829.4 326.7 830.0C335.0 830.6 343.9 829.4 350.0 826.7C356.1 823.9 360.4 819.4 363.3 813.3C366.2 807.2 367.1 798.3 367.3 790.0C367.6 781.7 366.1 771.1 365.0 763.3C363.9 755.6 360.1 749.2 360.7 743.3C361.2 737.5 367.6 731.7 368.3 728.3C369.1 725.0 369.7 723.1 365.0 723.3Z" fill="#ff0000" stroke="#ffee00" stroke-width="7" paint-order="stroke" stroke-linejoin="round"/>
<path d="M358.3 712.7C361.4 710.1 367.5 707.7 373.3 706.0C379.2 704.3 386.7 702.0 393.3 702.7C400.0 703.3 407.4 706.7 413.3 710.0C419.3 713.3 424.6 717.9 429.0 722.3C433.4 726.8 436.9 731.9 440.0 736.7C443.1 741.4 445.1 749.6 447.3 750.7C449.6 751.8 450.1 747.3 453.3 743.3C456.6 739.3 462.7 730.4 466.7 726.7C470.6 722.9 474.2 724.3 477.0 721.0C479.8 717.7 480.6 710.7 483.3 706.7C486.1 702.6 489.4 699.2 493.3 696.7C497.2 694.1 501.7 693.0 506.7 691.3C511.7 689.7 516.3 688.6 523.3 686.7C530.4 684.8 540.7 681.4 549.0 680.0C557.3 678.6 565.1 677.6 573.3 678.3C581.6 679.1 591.7 680.7 598.3 684.3C605.0 687.9 608.6 693.7 613.3 700.0C618.1 706.3 622.2 715.1 626.7 722.3C631.1 729.6 635.6 737.2 640.0 743.3C644.4 749.4 650.8 752.3 653.3 759.0C655.8 765.7 654.7 775.3 655.0 783.3C655.3 791.3 653.6 800.3 655.0 807.0C656.4 813.7 659.8 818.6 663.3 823.3C666.8 828.1 673.2 831.7 676.0 835.3C678.8 838.9 682.7 843.0 680.0 845.0C677.3 847.0 667.8 848.4 660.0 847.3C652.2 846.2 642.2 843.4 633.3 838.3C624.4 833.2 614.4 823.6 606.7 816.7C598.9 809.7 597.8 795.6 586.7 796.7C575.6 797.8 558.9 817.8 540.0 823.3C521.1 828.9 493.1 830.3 473.3 830.0C453.6 829.7 430.9 822.4 421.7 821.7C412.4 820.9 420.7 825.3 417.7 825.7C414.6 826.1 408.5 825.7 403.3 824.0C398.2 822.3 391.8 819.7 386.7 815.7C381.5 811.7 376.1 806.1 372.3 800.0C368.6 793.9 366.1 785.7 364.0 779.0C361.9 772.3 361.2 767.1 360.0 760.0C358.8 752.9 357.5 743.1 356.7 736.7C355.8 730.3 354.7 725.7 355.0 721.7C355.3 717.7 355.3 715.3 358.3 712.7Z" fill="#0000ff" stroke="#00ffff" stroke-width="7" paint-order="stroke" stroke-linejoin="round"/>
<path d="M378.0 778.9C378.0 777.0 383.2 779.1 389.3 778.9C395.4 778.6 407.0 775.6 414.7 777.5C422.5 779.3 429.3 785.7 435.9 790.2C442.5 794.6 448.4 801.0 454.3 804.3C460.2 807.6 467.0 809.5 471.2 809.9C475.5 810.4 476.2 811.8 479.7 807.1C483.2 802.4 488.0 791.6 492.4 781.7C496.9 771.8 501.1 758.2 506.6 747.8C512.0 737.4 519.0 725.9 524.9 719.5C530.8 713.2 536.7 711.1 541.9 709.7C547.0 708.2 552.5 708.2 556.0 711.1C559.5 713.9 560.2 720.0 563.1 726.6C565.9 733.2 569.6 741.9 572.9 750.6C576.2 759.3 580.5 770.6 582.8 778.9C585.2 787.1 586.8 793.5 587.1 800.1C587.3 806.6 586.6 814.7 584.2 818.4C581.9 822.2 576.2 823.1 572.9 822.7C569.6 822.2 566.8 819.4 564.5 815.6C562.1 811.8 560.9 806.2 558.8 800.1C556.7 793.9 554.1 784.3 551.8 778.9C549.4 773.5 546.6 769.0 544.7 767.6C542.8 766.2 541.6 767.3 540.5 770.4C539.3 773.5 538.6 779.8 537.6 785.9C536.7 792.1 536.9 801.2 534.8 807.1C532.7 813.0 529.6 816.5 524.9 821.2C520.2 826.0 513.1 831.4 506.6 835.4C500.0 839.4 492.4 843.4 485.4 845.3C478.3 847.1 471.2 847.1 464.2 846.7C457.1 846.2 448.9 844.3 443.0 842.4C437.1 840.5 432.2 838.9 428.9 835.4C425.6 831.8 425.6 825.5 423.2 821.2C420.9 817.0 418.0 813.5 414.7 809.9C411.5 806.4 407.7 803.4 403.4 800.1C399.2 796.8 393.6 793.7 389.3 790.2C385.1 786.6 378.0 780.8 378.0 778.9Z" fill="#ff0000" stroke="#ffee00" stroke-width="7" paint-order="stroke" stroke-linejoin="round"/>
<path d="M541.9 770.4C542.9 767.8 546.1 769.2 547.5 771.8C548.9 774.4 549.9 781.2 550.3 785.9C550.8 790.6 551.3 797.5 550.3 800.1C549.4 802.6 546.2 803.6 544.7 801.5C543.2 799.4 541.6 792.5 541.2 787.3C540.7 782.2 540.8 773.0 541.9 770.4Z" fill="#0000ff" stroke="#00ffff" stroke-width="7" paint-order="stroke" stroke-linejoin="round"/>
<path d="M450.1 753.4C450.5 749.4 454.1 741.2 457.1 736.5C460.2 731.8 465.4 727.1 468.4 725.2C471.5 723.3 474.0 722.1 475.5 725.2C477.0 728.3 477.6 737.0 477.6 743.6C477.6 750.2 476.5 759.6 475.5 764.7C474.4 769.9 473.1 773.7 471.2 774.6C469.4 775.6 467.0 772.7 464.2 770.4C461.4 768.0 456.6 763.3 454.3 760.5C451.9 757.7 449.6 757.4 450.1 753.4Z" fill="#ff0000" stroke="#ffee00" stroke-width="7" paint-order="stroke" stroke-linejoin="round"/>
<path d="M813.3 661.7C809.3 658.5 799.4 648.9 790.0 648.3C780.6 647.8 767.2 653.1 756.7 658.3C746.1 663.6 736.1 671.9 726.7 680.0C717.2 688.1 708.3 696.7 700.0 706.7C691.7 716.7 682.2 728.9 676.7 740.0C671.1 751.1 668.1 762.8 666.7 773.3C665.3 783.9 666.1 795.0 668.3 803.3C670.6 811.7 673.6 818.6 680.0 823.3C686.4 828.1 704.4 828.9 706.7 831.7C708.9 834.4 701.1 837.8 693.3 840.0C685.6 842.2 670.0 844.2 660.0 845.0C650.0 845.8 635.0 842.5 633.3 845.0C631.7 847.5 641.7 855.3 650.0 860.0C658.3 864.7 672.2 871.1 683.3 873.3C694.4 875.6 706.7 876.1 716.7 873.3C726.7 870.6 736.7 863.9 743.3 856.7C750.0 849.4 754.4 840.0 756.7 830.0C758.9 820.0 758.3 807.8 756.7 796.7C755.0 785.6 749.4 772.2 746.7 763.3C743.9 754.4 740.6 751.1 740.0 743.3C739.4 735.6 740.0 725.0 743.3 716.7C746.7 708.3 752.8 700.0 760.0 693.3C767.2 686.7 777.7 681.0 786.7 676.7C795.7 672.3 809.6 669.8 814.0 667.3C818.4 664.8 817.3 664.8 813.3 661.7Z" fill="#ff0000" stroke="#ffee00" stroke-width="7" paint-order="stroke" stroke-linejoin="round"/>
<path d="M833.3 663.3C838.3 664.4 843.3 670.0 846.7 676.7C850.0 683.3 853.3 694.4 853.3 703.3C853.3 712.2 850.0 721.1 846.7 730.0C843.3 738.9 838.9 748.3 833.3 756.7C827.8 765.0 816.1 773.3 813.3 780.0C810.6 786.7 812.2 790.6 816.7 796.7C821.1 802.8 831.7 810.0 840.0 816.7C848.3 823.3 859.3 831.6 866.7 836.7C874.0 841.8 885.1 845.0 884.0 847.3C882.9 849.7 868.4 851.3 860.0 850.7C851.6 850.0 843.3 847.9 833.3 843.3C823.3 838.8 810.0 831.1 800.0 823.3C790.0 815.6 781.1 806.7 773.3 796.7C765.6 786.7 758.3 773.3 753.3 763.3C748.3 753.3 744.4 744.4 743.3 736.7C742.2 728.9 742.8 723.9 746.7 716.7C750.6 709.4 758.9 700.0 766.7 693.3C774.4 686.7 785.0 680.6 793.3 676.7C801.7 672.8 810.0 672.2 816.7 670.0C823.3 667.8 828.3 662.2 833.3 663.3Z" fill="#0000ff" stroke="#00ffff" stroke-width="7" paint-order="stroke" stroke-linejoin="round"/>
<path d="M1070.0 711.7C1073.3 711.7 1075.6 696.9 1073.3 690.0C1071.1 683.1 1064.4 675.0 1056.7 670.0C1048.9 665.0 1037.2 661.4 1026.7 660.0C1016.1 658.6 1004.4 660.0 993.3 661.7C982.2 663.3 970.6 666.4 960.0 670.0C949.4 673.6 940.0 678.6 930.0 683.3C920.0 688.1 909.4 691.7 900.0 698.3C890.6 705.0 880.6 713.6 873.3 723.3C866.1 733.1 860.6 745.6 856.7 756.7C852.8 767.8 850.0 780.0 850.0 790.0C850.0 800.0 851.7 808.9 856.7 816.7C861.7 824.4 872.8 831.7 880.0 836.7C887.2 841.7 898.9 843.6 900.0 846.7C901.1 849.7 893.3 851.7 886.7 855.0C880.0 858.3 861.1 862.5 860.0 866.7C858.9 870.8 871.7 877.2 880.0 880.0C888.3 882.8 900.0 883.9 910.0 883.3C920.0 882.8 931.7 881.1 940.0 876.7C948.3 872.2 955.6 864.4 960.0 856.7C964.4 848.9 966.7 840.0 966.7 830.0C966.7 820.0 963.3 807.8 960.0 796.7C956.7 785.6 951.1 773.3 946.7 763.3C942.2 753.3 936.4 744.4 933.3 736.7C930.3 728.9 926.7 723.9 928.3 716.7C930.0 709.4 936.9 699.4 943.3 693.3C949.7 687.2 957.2 683.3 966.7 680.0C976.1 676.7 989.4 673.9 1000.0 673.3C1010.6 672.8 1021.1 673.9 1030.0 676.7C1038.9 679.4 1046.7 684.2 1053.3 690.0C1060.0 695.8 1066.7 711.7 1070.0 711.7Z" fill="#ff0000" stroke="#ffee00" stroke-width="7" paint-order="stroke" stroke-linejoin="round"/>
<path d="M946.7 716.7C948.9 708.9 952.8 696.7 960.0 690.0C967.2 683.3 980.0 678.3 990.0 676.7C1000.0 675.0 1010.6 676.7 1020.0 680.0C1029.4 683.3 1039.4 689.4 1046.7 696.7C1053.9 703.9 1061.1 714.4 1063.3 723.3C1065.6 732.2 1063.9 741.1 1060.0 750.0C1056.1 758.9 1047.2 768.9 1040.0 776.7C1032.8 784.4 1022.2 791.1 1016.7 796.7C1011.1 802.2 1006.7 803.3 1006.7 810.0C1006.7 816.7 1010.6 828.9 1016.7 836.7C1022.8 844.4 1033.9 851.7 1043.3 856.7C1052.8 861.7 1063.2 863.8 1073.3 866.7C1083.4 869.6 1102.3 871.7 1104.0 874.0C1105.7 876.3 1092.3 880.7 1083.3 880.7C1074.3 880.7 1061.1 878.0 1050.0 874.0C1038.9 870.0 1026.7 864.0 1016.7 856.7C1006.7 849.3 997.2 840.0 990.0 830.0C982.8 820.0 978.9 807.8 973.3 796.7C967.8 785.6 961.1 773.3 956.7 763.3C952.2 753.3 948.3 744.4 946.7 736.7C945.0 728.9 944.4 724.4 946.7 716.7Z" fill="#0000ff" stroke="#00ffff" stroke-width="7" paint-order="stroke" stroke-linejoin="round"/>
<path d="M1246.7 666.7C1245.6 664.3 1235.6 656.1 1226.7 653.3C1217.8 650.6 1204.4 648.9 1193.3 650.0C1182.2 651.1 1170.6 655.0 1160.0 660.0C1149.4 665.0 1138.9 672.8 1130.0 680.0C1121.1 687.2 1115.0 695.0 1106.7 703.3C1098.3 711.7 1088.9 721.1 1080.0 730.0C1071.1 738.9 1061.7 747.8 1053.3 756.7C1045.0 765.6 1035.0 774.4 1030.0 783.3C1025.0 792.2 1022.8 801.7 1023.3 810.0C1023.9 818.3 1027.2 826.7 1033.3 833.3C1039.4 840.0 1050.0 845.0 1060.0 850.0C1070.0 855.0 1083.3 860.6 1093.3 863.3C1103.3 866.1 1114.4 864.4 1120.0 866.7C1125.6 868.9 1128.9 872.2 1126.7 876.7C1124.4 881.1 1111.7 889.3 1106.7 893.3C1101.7 897.3 1094.4 898.9 1096.7 900.7C1098.9 902.4 1111.1 904.7 1120.0 904.0C1128.9 903.3 1141.7 901.2 1150.0 896.7C1158.3 892.1 1165.6 884.4 1170.0 876.7C1174.4 868.9 1176.1 858.9 1176.7 850.0C1177.2 841.1 1176.7 833.3 1173.3 823.3C1170.0 813.3 1163.3 800.0 1156.7 790.0C1150.0 780.0 1139.7 770.6 1133.3 763.3C1126.9 756.1 1120.6 752.2 1118.3 746.7C1116.1 741.1 1116.4 736.7 1120.0 730.0C1123.6 723.3 1132.2 713.9 1140.0 706.7C1147.8 699.4 1156.7 692.2 1166.7 686.7C1176.7 681.1 1188.9 676.6 1200.0 673.3C1211.1 670.1 1225.6 668.4 1233.3 667.3C1241.1 666.2 1247.8 669.0 1246.7 666.7Z" fill="#ff0000" stroke="#ffee00" stroke-width="7" paint-order="stroke" stroke-linejoin="round"/>
<path d="M1133.3 736.7C1133.3 727.2 1140.0 714.4 1146.7 706.7C1153.3 698.9 1162.8 694.4 1173.3 690.0C1183.9 685.6 1197.8 681.1 1210.0 680.0C1222.2 678.9 1236.7 680.0 1246.7 683.3C1256.7 686.7 1264.9 693.3 1270.0 700.0C1275.1 706.7 1278.4 715.0 1277.3 723.3C1276.2 731.7 1269.6 741.1 1263.3 750.0C1257.1 758.9 1247.2 770.0 1240.0 776.7C1232.8 783.3 1227.8 787.1 1220.0 790.0C1212.2 792.9 1202.2 795.1 1193.3 794.0C1184.4 792.9 1174.4 788.4 1166.7 783.3C1158.9 778.2 1152.2 771.1 1146.7 763.3C1141.1 755.6 1133.3 746.1 1133.3 736.7Z" fill="#0000ff" stroke="#00ffff" stroke-width="7" paint-order="stroke" stroke-linejoin="round"/>
<path d="M1196.7 816.7C1199.4 810.0 1207.8 803.3 1216.7 796.7C1225.6 790.0 1238.9 781.7 1250.0 776.7C1261.1 771.7 1273.3 768.3 1283.3 766.7C1293.3 765.0 1301.1 763.9 1310.0 766.7C1318.9 769.4 1328.9 776.7 1336.7 783.3C1344.4 790.0 1352.1 798.9 1356.7 806.7C1361.2 814.4 1365.1 821.7 1364.0 830.0C1362.9 838.3 1356.8 848.9 1350.0 856.7C1343.2 864.4 1333.9 872.1 1323.3 876.7C1312.8 881.2 1299.4 884.4 1286.7 884.0C1273.9 883.6 1258.3 879.1 1246.7 874.0C1235.0 868.9 1224.4 859.6 1216.7 853.3C1208.9 847.1 1203.3 842.8 1200.0 836.7C1196.7 830.6 1193.9 823.3 1196.7 816.7Z" fill="#ff0000" stroke="#ffee00" stroke-width="7" paint-order="stroke" stroke-linejoin="round"/>
<path d="M1313.3 746.7C1312.2 740.6 1320.0 732.8 1326.7 726.7C1333.3 720.6 1345.0 713.9 1353.3 710.0C1361.7 706.1 1372.8 687.8 1376.7 703.3C1380.6 718.9 1380.0 790.0 1376.7 803.3C1373.3 816.7 1363.9 790.0 1356.7 783.3C1349.4 776.7 1340.6 769.4 1333.3 763.3C1326.1 757.2 1314.4 752.8 1313.3 746.7Z" fill="#0000ff" stroke="#00ffff" stroke-width="7" paint-order="stroke" stroke-linejoin="round"/>
<path d="M1333.3 890.0C1333.9 885.4 1342.8 876.1 1350.0 870.0C1357.2 863.9 1372.2 848.9 1376.7 853.3C1381.1 857.8 1381.7 889.3 1376.7 896.7C1371.7 904.0 1353.9 898.4 1346.7 897.3C1339.4 896.2 1332.8 894.6 1333.3 890.0Z" fill="#0000ff" stroke="#00ffff" stroke-width="7" paint-order="stroke" stroke-linejoin="round"/>
<path d="M1300.0 730.0C1302.8 724.9 1313.9 714.7 1326.7 706.7C1339.4 698.6 1368.3 683.3 1376.7 681.7C1385.0 680.0 1383.9 690.8 1376.7 696.7C1369.4 702.5 1344.4 709.9 1333.3 716.7C1322.2 723.4 1315.6 735.1 1310.0 737.3C1304.4 739.6 1297.2 735.1 1300.0 730.0Z" fill="#ff0000" stroke="#ffee00" stroke-width="7" paint-order="stroke" stroke-linejoin="round"/>
<rect x="73.5" y="763.5" width="12" height="16.5" rx="4" fill="#fff" stroke="#000" stroke-width="3.5"/>
<circle cx="390.7" cy="763.5" r="13" fill="#fff" stroke="#000" stroke-width="4.5"/>
</g>
<rect x="56.0" y="559.0" width="1312" height="404" fill="none" stroke="#00c800" stroke-width="4"/>
</g>
<g clip-path="url(#clipd)">
<rect x="1465" y="548" width="1331" height="418" fill="#00ff00"/>
<g filter="url(#soft)">
<path d="M2333.3 640.0C2337.2 635.6 2355.6 627.8 2366.7 626.7C2377.8 625.6 2397.2 629.4 2400.0 633.3C2402.8 637.2 2392.8 646.7 2383.3 650.0C2373.9 653.3 2351.7 655.0 2343.3 653.3C2335.0 651.7 2329.4 644.4 2333.3 640.0Z" fill="#00ffe0" filter="url(#haze)" opacity="0.6"/>
<path d="M2533.3 630.0C2533.3 626.1 2569.4 620.0 2583.3 620.0C2597.2 620.0 2616.7 626.1 2616.7 630.0C2616.7 633.9 2597.2 643.3 2583.3 643.3C2569.4 643.3 2533.3 633.9 2533.3 630.0Z" fill="#00ffe0" filter="url(#haze)" opacity="0.6"/>
<path d="M2583.3 663.3C2585.0 659.4 2603.3 655.0 2610.0 656.7C2616.7 658.3 2625.0 669.4 2623.3 673.3C2621.7 677.2 2606.7 681.7 2600.0 680.0C2593.3 678.3 2581.7 667.2 2583.3 663.3Z" fill="#ffee00" filter="url(#haze)" opacity="0.6"/>
<path d="M2433.3 866.7C2436.1 862.8 2470.6 858.3 2483.3 860.0C2496.1 861.7 2512.8 872.8 2510.0 876.7C2507.2 880.6 2479.4 885.0 2466.7 883.3C2453.9 881.7 2430.6 870.6 2433.3 866.7Z" fill="#ffee00" filter="url(#haze)" opacity="0.6"/>
<path d="M2383.3 840.0C2386.1 838.1 2416.7 842.8 2433.3 843.3C2450.0 843.9 2477.8 841.1 2483.3 843.3C2488.9 845.6 2477.8 854.7 2466.7 856.7C2455.6 858.6 2430.6 857.8 2416.7 855.0C2402.8 852.2 2380.6 841.9 2383.3 840.0Z" fill="#00ffe0" filter="url(#haze)" opacity="0.6"/>
<path d="M1460.0 730.0C1466.7 722.1 1485.0 723.3 1500.0 720.0C1515.0 716.7 1536.1 712.2 1550.0 710.0C1563.9 707.8 1572.2 705.6 1583.3 706.7C1594.4 707.8 1607.8 711.7 1616.7 716.7C1625.6 721.7 1631.1 728.9 1636.7 736.7C1642.2 744.4 1646.0 754.4 1650.0 763.3C1654.0 772.2 1658.9 782.9 1660.7 790.0C1662.4 797.1 1663.0 803.7 1660.7 805.7C1658.3 807.6 1652.9 805.4 1646.7 801.7C1640.4 797.9 1630.6 790.3 1623.3 783.3C1616.1 776.4 1608.9 766.7 1603.3 760.0C1597.8 753.3 1595.6 747.8 1590.0 743.3C1584.4 738.9 1576.7 734.4 1570.0 733.3C1563.3 732.2 1557.8 733.3 1550.0 736.7C1542.2 740.0 1532.8 748.9 1523.3 753.3C1513.9 757.8 1503.9 761.0 1493.3 763.3C1482.8 765.7 1465.6 772.9 1460.0 767.3C1454.4 761.8 1453.3 737.9 1460.0 730.0Z" fill="#0000ff" stroke="#00ffff" stroke-width="7" paint-order="stroke" stroke-linejoin="round"/>
<path d="M1460.0 776.7C1465.6 772.8 1482.8 767.2 1493.3 763.3C1503.9 759.4 1513.9 757.8 1523.3 753.3C1532.8 748.9 1542.2 740.0 1550.0 736.7C1557.8 733.3 1563.3 732.2 1570.0 733.3C1576.7 734.4 1584.4 737.2 1590.0 743.3C1595.6 749.4 1598.9 761.7 1603.3 770.0C1607.8 778.3 1611.1 787.2 1616.7 793.3C1622.2 799.4 1630.0 804.4 1636.7 806.7C1643.3 808.9 1652.2 809.4 1656.7 806.7C1661.1 803.9 1661.7 797.2 1663.3 790.0C1665.0 782.8 1664.4 773.3 1666.7 763.3C1668.9 753.3 1672.2 739.4 1676.7 730.0C1681.1 720.6 1686.7 712.8 1693.3 706.7C1700.0 700.6 1708.3 696.1 1716.7 693.3C1725.0 690.6 1738.2 688.9 1743.3 690.0C1748.4 691.1 1749.0 695.6 1747.3 700.0C1745.7 704.4 1737.3 708.9 1733.3 716.7C1729.3 724.4 1725.6 736.1 1723.3 746.7C1721.1 757.2 1721.7 770.6 1720.0 780.0C1718.3 789.4 1717.2 796.7 1713.3 803.3C1709.4 810.0 1702.8 816.1 1696.7 820.0C1690.6 823.9 1684.4 826.1 1676.7 826.7C1668.9 827.2 1658.9 826.1 1650.0 823.3C1641.1 820.6 1631.7 815.6 1623.3 810.0C1615.0 804.4 1606.7 795.6 1600.0 790.0C1593.3 784.4 1591.7 776.7 1583.3 776.7C1575.0 776.7 1561.1 786.9 1550.0 790.0C1538.9 793.1 1527.8 794.4 1516.7 795.0C1505.6 795.6 1492.8 794.7 1483.3 793.3C1473.9 791.9 1463.9 789.4 1460.0 786.7C1456.1 783.9 1454.4 780.6 1460.0 776.7Z" fill="#ff0000" stroke="#ffee00" stroke-width="7" paint-order="stroke" stroke-linejoin="round"/>
<path d="M1700.0 687.8C1702.8 683.0 1709.9 676.5 1716.9 672.5C1724.0 668.6 1733.9 665.2 1742.4 664.1C1750.8 662.9 1760.2 664.1 1767.8 665.8C1775.4 667.5 1782.5 670.6 1788.1 674.2C1793.8 677.9 1798.3 682.7 1801.7 687.8C1805.1 692.9 1806.6 700.6 1808.5 704.7C1810.3 708.8 1809.6 713.5 1812.7 712.4C1815.8 711.2 1821.9 701.8 1827.1 698.0C1832.3 694.2 1838.4 691.9 1844.1 689.5C1849.7 687.1 1854.0 683.6 1861.0 683.6C1868.1 683.6 1880.8 687.9 1886.4 689.5C1892.1 691.0 1892.1 689.8 1894.9 692.9C1897.7 696.0 1900.6 702.2 1903.4 708.1C1906.2 714.1 1909.9 722.5 1911.9 728.5C1913.8 734.4 1913.0 744.9 1915.3 743.7C1917.5 742.6 1922.3 729.6 1925.4 721.7C1928.5 713.8 1931.9 703.9 1933.9 696.3C1935.9 688.6 1937.3 681.6 1937.3 675.9C1937.3 670.3 1932.5 666.0 1933.9 662.4C1935.3 658.7 1941.0 656.0 1945.8 653.9C1950.6 651.8 1957.1 649.9 1962.7 649.7C1968.4 649.4 1974.9 650.4 1979.7 652.2C1984.5 654.0 1990.1 657.0 1991.5 660.7C1992.9 664.4 1991.0 669.2 1988.1 674.2C1985.3 679.3 1978.8 685.5 1974.6 691.2C1970.3 696.8 1966.7 702.2 1962.7 708.1C1958.8 714.1 1955.1 720.0 1950.8 726.8C1946.6 733.6 1941.0 741.8 1937.3 748.8C1933.6 755.9 1930.8 762.9 1928.8 769.2C1926.8 775.4 1925.7 779.9 1925.4 786.1C1925.1 792.3 1925.7 800.8 1927.1 806.4C1928.5 812.1 1932.2 816.5 1933.9 820.0C1935.6 823.5 1939.5 826.8 1937.3 827.6C1935.0 828.5 1926.0 826.9 1920.3 825.1C1914.7 823.2 1909.0 816.9 1903.4 816.6C1897.7 816.3 1893.5 820.8 1886.4 823.4C1879.4 825.9 1868.6 830.7 1861.0 831.9C1853.4 833.0 1847.7 830.3 1840.7 830.2C1833.6 830.0 1826.3 832.0 1818.6 831.0C1811.0 830.0 1802.8 828.3 1794.9 824.2C1787.0 820.1 1778.0 813.6 1771.2 806.4C1764.4 799.2 1759.0 789.5 1754.2 781.0C1749.4 772.5 1744.9 764.1 1742.4 755.6C1739.8 747.1 1738.7 739.2 1739.0 730.2C1739.3 721.1 1742.1 708.4 1744.1 701.4C1746.0 694.3 1752.0 690.6 1750.8 687.8C1749.7 685.0 1742.9 684.4 1737.3 684.4C1731.6 684.4 1723.2 685.0 1716.9 687.8C1710.7 690.6 1702.8 701.4 1700.0 701.4C1697.2 701.4 1697.2 692.6 1700.0 687.8Z" fill="#0000ff" stroke="#00ffff" stroke-width="7" paint-order="stroke" stroke-linejoin="round"/>
<path d="M1784.7 786.9C1785.0 789.6 1796.0 786.0 1801.7 785.3C1807.3 784.5 1814.1 782.8 1818.6 782.4C1823.2 781.9 1826.0 781.0 1828.8 782.7C1831.6 784.5 1833.3 788.9 1835.6 792.9C1837.9 796.8 1840.1 801.4 1842.4 806.4C1844.6 811.5 1849.4 818.9 1849.2 823.4C1848.9 827.9 1844.4 831.2 1840.7 833.6C1837.0 836.0 1831.1 836.5 1827.1 837.8C1823.2 839.1 1816.7 839.8 1816.9 841.2C1817.2 842.6 1822.9 844.9 1828.8 846.3C1834.7 847.6 1844.4 849.3 1852.5 849.2C1860.7 849.0 1871.5 847.3 1878.0 845.4C1884.5 843.5 1887.9 841.3 1891.5 837.8C1895.2 834.3 1899.2 828.9 1900.0 824.2C1900.8 819.6 1898.3 815.6 1896.6 809.8C1894.9 804.0 1892.7 796.3 1889.8 789.5C1887.0 782.7 1883.1 775.6 1879.7 769.2C1876.3 762.7 1872.3 757.0 1869.5 750.5C1866.7 744.0 1864.4 736.7 1862.7 730.2C1861.0 723.7 1861.0 715.2 1859.3 711.5C1857.6 707.9 1856.5 707.6 1852.5 708.1C1848.6 708.7 1840.7 712.1 1835.6 714.9C1830.5 717.7 1826.3 720.6 1822.0 725.1C1817.8 729.6 1813.6 736.9 1810.2 742.0C1806.8 747.1 1803.4 751.1 1801.7 755.6C1800.0 760.1 1802.8 763.9 1800.0 769.2C1797.2 774.4 1784.5 784.3 1784.7 786.9Z" fill="#ff0000" stroke="#ffee00" stroke-width="7" paint-order="stroke" stroke-linejoin="round"/>
<path d="M1893.2 687.8C1895.2 684.1 1905.6 681.0 1911.9 679.3C1918.1 677.6 1927.3 674.8 1930.5 677.6C1933.8 680.5 1932.5 688.9 1931.4 696.3C1930.2 703.6 1926.4 714.1 1923.7 721.7C1921.0 729.3 1917.8 742.0 1915.3 742.0C1912.7 742.0 1911.0 728.5 1908.5 721.7C1905.9 714.9 1902.5 707.0 1900.0 701.4C1897.5 695.7 1891.2 691.5 1893.2 687.8Z" fill="#ff0000" stroke="#ffee00" stroke-width="7" paint-order="stroke" stroke-linejoin="round"/>
<path d="M2042.6 664.3C2042.6 662.3 2033.1 658.8 2026.8 659.3C2020.5 659.8 2011.6 663.3 2005.0 667.2C1998.5 671.2 1992.9 676.5 1987.2 683.1C1981.6 689.7 1976.7 698.2 1971.4 706.8C1966.1 715.4 1960.9 725.3 1955.6 734.5C1950.3 743.7 1944.4 753.0 1939.8 762.2C1935.2 771.4 1930.2 781.3 1927.9 789.9C1925.6 798.4 1924.0 806.4 1925.9 813.6C1927.9 820.9 1934.2 828.1 1939.8 833.4C1945.4 838.7 1953.0 843.6 1959.6 845.3C1966.1 846.9 1973.7 845.9 1979.3 843.3C1984.9 840.6 1990.2 835.4 1993.2 829.4C1996.1 823.5 1997.1 815.3 1997.1 807.7C1997.1 800.1 1995.2 790.5 1993.2 783.9C1991.2 777.3 1987.9 773.1 1985.3 768.1C1982.6 763.2 1976.7 756.2 1977.4 754.3C1978.0 752.3 1984.9 753.0 1989.2 756.2C1993.5 759.5 1998.8 767.1 2003.1 774.1C2007.4 781.0 2011.0 789.9 2014.9 797.8C2018.9 805.7 2023.2 813.6 2026.8 821.5C2030.4 829.4 2033.1 839.3 2036.7 845.3C2040.3 851.2 2043.0 854.8 2048.6 857.1C2054.2 859.4 2064.4 859.4 2070.3 859.1C2076.2 858.8 2083.5 858.8 2084.2 855.1C2084.8 851.5 2078.6 843.6 2074.3 837.3C2070.0 831.1 2063.7 824.8 2058.4 817.6C2053.2 810.3 2047.2 801.4 2042.6 793.8C2038.0 786.2 2034.7 779.3 2030.8 772.1C2026.8 764.8 2023.5 757.2 2018.9 750.3C2014.3 743.4 2007.0 736.5 2003.1 730.5C1999.1 724.6 1995.8 720.6 1995.2 714.7C1994.5 708.8 1996.5 700.9 1999.1 694.9C2001.8 689.0 2006.4 683.1 2011.0 679.1C2015.6 675.2 2021.5 673.7 2026.8 671.2C2032.1 668.7 2042.6 666.3 2042.6 664.3Z" fill="#ff0000" stroke="#ffee00" stroke-width="7" paint-order="stroke" stroke-linejoin="round"/>
<path d="M1997.1 718.7C1997.1 712.7 1999.4 701.5 2003.1 694.9C2006.7 688.3 2012.3 683.1 2018.9 679.1C2025.5 675.2 2034.4 672.9 2042.6 671.2C2050.9 669.6 2061.7 668.6 2068.3 669.2C2074.9 669.9 2078.9 671.9 2082.2 675.2C2085.5 678.5 2087.5 683.1 2088.1 689.0C2088.8 694.9 2087.5 704.2 2086.1 710.8C2084.8 717.4 2082.5 723.0 2080.2 728.6C2077.9 734.2 2074.8 739.4 2072.3 744.4C2069.8 749.3 2067.2 753.3 2065.4 758.2C2063.6 763.2 2062.6 768.8 2061.4 774.1C2060.3 779.3 2058.9 785.9 2058.4 789.9C2058.0 793.8 2055.2 793.2 2058.4 797.8C2061.7 802.4 2071.6 811.6 2078.2 817.6C2084.8 823.5 2091.4 830.1 2098.0 833.4C2104.6 836.7 2109.5 836.7 2117.8 837.3C2126.0 838.0 2140.9 836.4 2147.5 837.3C2154.0 838.3 2157.3 840.6 2157.3 843.3C2157.3 845.9 2154.0 850.9 2147.5 853.2C2140.9 855.5 2126.7 857.4 2117.8 857.1C2108.9 856.8 2101.3 854.5 2094.1 851.2C2086.8 847.9 2080.2 842.9 2074.3 837.3C2068.3 831.7 2063.7 824.8 2058.4 817.6C2053.2 810.3 2047.2 801.4 2042.6 793.8C2038.0 786.2 2034.7 779.3 2030.8 772.1C2026.8 764.8 2023.5 757.2 2018.9 750.3C2014.3 743.4 2006.7 735.8 2003.1 730.5C1999.4 725.3 1997.1 724.6 1997.1 718.7Z" fill="#0000ff" stroke="#00ffff" stroke-width="7" paint-order="stroke" stroke-linejoin="round"/>
<path d="M2117.8 736.5C2123.7 735.8 2138.6 747.0 2147.5 750.3C2156.4 753.6 2165.6 751.6 2171.2 756.2C2176.8 760.9 2177.4 771.1 2181.1 778.0C2184.7 784.9 2188.7 790.2 2192.9 797.8C2197.2 805.4 2203.5 816.9 2206.8 823.5C2210.1 830.1 2214.4 835.0 2212.7 837.3C2211.1 839.6 2202.8 840.6 2196.9 837.3C2191.0 834.0 2182.7 824.8 2177.1 817.6C2171.5 810.3 2168.2 800.4 2163.3 793.8C2158.3 787.2 2153.1 783.0 2147.5 778.0C2141.8 773.1 2135.6 768.1 2129.7 764.2C2123.7 760.2 2113.8 758.9 2111.9 754.3C2109.9 749.7 2111.9 737.1 2117.8 736.5Z" fill="#0000ff" stroke="#00ffff" stroke-width="7" paint-order="stroke" stroke-linejoin="round"/>
<path d="M2066.4 778.0C2065.7 770.1 2067.7 764.8 2070.3 758.2C2073.0 751.6 2077.6 745.0 2082.2 738.4C2086.8 731.9 2092.1 725.3 2098.0 718.7C2103.9 712.1 2111.2 704.8 2117.8 698.9C2124.4 693.0 2131.0 688.0 2137.6 683.1C2144.2 678.1 2149.1 673.8 2157.3 669.2C2165.6 664.6 2177.1 659.3 2187.0 655.4C2196.9 651.4 2207.8 648.0 2216.7 645.5C2225.5 643.0 2233.4 641.5 2240.0 640.5C2246.6 639.6 2251.6 639.1 2256.2 639.6C2260.9 640.1 2268.1 640.5 2268.1 643.5C2268.1 646.5 2260.9 653.7 2256.2 657.4C2251.6 661.0 2246.6 664.0 2240.0 665.3C2233.4 666.6 2225.5 664.9 2216.7 665.3C2207.8 665.6 2196.9 664.9 2187.0 667.2C2177.1 669.6 2165.6 674.5 2157.3 679.1C2149.1 683.7 2143.2 689.7 2137.6 694.9C2132.0 700.2 2128.3 705.5 2123.7 710.8C2119.1 716.0 2112.8 721.3 2109.9 726.6C2106.9 731.9 2105.6 737.8 2105.9 742.4C2106.2 747.0 2107.9 750.6 2111.9 754.3C2115.8 757.9 2123.7 760.2 2129.7 764.2C2135.6 768.1 2141.8 773.1 2147.5 778.0C2153.1 783.0 2159.0 788.6 2163.3 793.8C2167.6 799.1 2172.2 804.7 2173.2 809.7C2174.2 814.6 2172.5 819.9 2169.2 823.5C2165.9 827.1 2160.3 829.8 2153.4 831.4C2146.5 833.1 2135.3 833.4 2127.7 833.4C2120.1 833.4 2114.5 833.4 2107.9 831.4C2101.3 829.4 2093.7 825.8 2088.1 821.5C2082.5 817.2 2077.9 812.9 2074.3 805.7C2070.6 798.4 2067.0 785.9 2066.4 778.0Z" fill="#ff0000" stroke="#ffee00" stroke-width="7" paint-order="stroke" stroke-linejoin="round"/>
<path d="M2116.7 683.3C2118.9 677.7 2128.9 663.3 2136.7 656.7C2144.4 650.0 2156.0 645.8 2163.3 643.3C2170.7 640.8 2179.6 639.9 2180.7 641.7C2181.8 643.4 2176.2 649.3 2170.0 654.0C2163.8 658.7 2151.1 663.9 2143.3 670.0C2135.6 676.1 2127.8 688.4 2123.3 690.7C2118.9 692.9 2114.4 689.0 2116.7 683.3Z" fill="#0000ff" stroke="#00ffff" stroke-width="7" paint-order="stroke" stroke-linejoin="round"/>
<path d="M2136.7 703.3C2138.9 696.1 2148.9 686.1 2156.7 680.0C2164.4 673.9 2173.3 668.9 2183.3 666.7C2193.3 664.4 2206.7 664.4 2216.7 666.7C2226.7 668.9 2237.1 674.4 2243.3 680.0C2249.6 685.6 2254.0 693.3 2254.0 700.0C2254.0 706.7 2249.0 714.4 2243.3 720.0C2237.7 725.6 2228.9 729.9 2220.0 733.3C2211.1 736.8 2199.4 740.1 2190.0 740.7C2180.6 741.2 2171.1 739.6 2163.3 736.7C2155.6 733.8 2147.8 728.9 2143.3 723.3C2138.9 717.8 2134.4 710.6 2136.7 703.3Z" fill="#0000ff" stroke="#00ffff" stroke-width="7" paint-order="stroke" stroke-linejoin="round"/>
<path d="M2171.2 758.2C2170.5 753.6 2172.2 751.6 2177.1 750.3C2182.1 749.0 2194.3 749.0 2200.9 750.3C2207.4 751.6 2212.1 755.3 2216.7 758.2C2221.3 761.2 2224.7 766.1 2228.5 768.1C2232.4 770.1 2235.4 768.4 2240.0 770.1C2244.6 771.7 2252.9 773.4 2256.2 778.0C2259.6 782.6 2260.2 787.9 2260.2 797.8C2260.2 807.7 2259.6 827.5 2256.2 837.3C2252.9 847.2 2245.0 855.5 2240.0 857.1C2235.1 858.8 2232.1 852.8 2226.6 847.2C2221.0 841.6 2212.4 831.7 2206.8 823.5C2201.2 815.3 2197.2 805.4 2192.9 797.8C2188.7 790.2 2184.7 784.6 2181.1 778.0C2177.4 771.4 2171.8 762.8 2171.2 758.2Z" fill="#ff0000" stroke="#ffee00" stroke-width="7" paint-order="stroke" stroke-linejoin="round"/>
<path d="M2226.7 760.0C2226.1 756.0 2233.3 749.4 2240.0 743.3C2246.7 737.2 2257.8 731.1 2266.7 723.3C2275.6 715.6 2285.0 703.9 2293.3 696.7C2301.7 689.4 2307.2 684.4 2316.7 680.0C2326.1 675.6 2338.9 670.6 2350.0 670.0C2361.1 669.4 2372.8 673.3 2383.3 676.7C2393.9 680.0 2406.6 685.6 2413.3 690.0C2420.1 694.4 2423.4 697.8 2424.0 703.3C2424.6 708.9 2421.2 717.2 2416.7 723.3C2412.1 729.4 2403.9 735.0 2396.7 740.0C2389.4 745.0 2381.1 750.0 2373.3 753.3C2365.6 756.7 2362.2 759.4 2350.0 760.0C2337.8 760.6 2313.3 756.7 2300.0 756.7C2286.7 756.7 2279.4 758.2 2270.0 760.0C2260.6 761.8 2250.6 767.3 2243.3 767.3C2236.1 767.3 2227.2 764.0 2226.7 760.0Z" fill="#0000ff" stroke="#00ffff" stroke-width="7" paint-order="stroke" stroke-linejoin="round"/>
<path d="M2436.7 710.0C2437.8 702.8 2447.8 693.9 2456.7 686.7C2465.6 679.4 2478.9 671.4 2490.0 666.7C2501.1 661.9 2511.7 658.9 2523.3 658.3C2535.0 657.8 2548.9 659.7 2560.0 663.3C2571.1 666.9 2581.9 672.8 2590.0 680.0C2598.1 687.2 2604.2 700.6 2608.3 706.7C2612.5 712.8 2610.8 718.3 2615.0 716.7C2619.2 715.0 2624.7 704.4 2633.3 696.7C2641.9 688.9 2655.6 677.8 2666.7 670.0C2677.8 662.2 2688.9 655.0 2700.0 650.0C2711.1 645.0 2722.2 642.2 2733.3 640.0C2744.4 637.8 2755.0 637.3 2766.7 636.7C2778.3 636.0 2797.2 609.3 2803.3 636.0C2809.4 662.7 2808.3 769.2 2803.3 796.7C2798.3 824.1 2783.3 802.9 2773.3 800.7C2763.3 798.4 2752.8 790.7 2743.3 783.3C2733.9 776.0 2724.4 765.6 2716.7 756.7C2708.9 747.8 2702.2 736.0 2696.7 730.0C2691.1 724.0 2691.1 721.7 2683.3 720.7C2675.6 719.7 2661.1 721.2 2650.0 724.0C2638.9 726.8 2625.6 731.8 2616.7 737.3C2607.8 742.9 2602.2 751.2 2596.7 757.3C2591.1 763.4 2590.0 770.1 2583.3 774.0C2576.7 777.9 2567.8 780.1 2556.7 780.7C2545.6 781.2 2527.8 780.2 2516.7 777.3C2505.6 774.4 2497.8 768.4 2490.0 763.3C2482.2 758.2 2476.7 752.2 2470.0 746.7C2463.3 741.1 2455.6 736.1 2450.0 730.0C2444.4 723.9 2435.6 717.2 2436.7 710.0Z" fill="#0000ff" stroke="#00ffff" stroke-width="7" paint-order="stroke" stroke-linejoin="round"/>
<path d="M2206.7 790.0C2211.7 784.4 2220.6 777.1 2233.3 773.3C2246.1 769.6 2269.4 768.9 2283.3 767.3C2297.2 765.8 2302.8 765.1 2316.7 764.0C2330.6 762.9 2353.9 763.4 2366.7 760.7C2379.4 757.9 2383.9 751.2 2393.3 747.3C2402.8 743.4 2413.9 737.4 2423.3 737.3C2432.8 737.2 2441.1 741.2 2450.0 746.7C2458.9 752.1 2469.4 761.7 2476.7 770.0C2483.9 778.3 2489.9 788.9 2493.3 796.7C2496.8 804.4 2499.6 811.0 2497.3 816.7C2495.1 822.3 2487.9 827.2 2480.0 830.7C2472.1 834.1 2460.6 836.2 2450.0 837.3C2439.4 838.4 2427.8 839.6 2416.7 837.3C2405.6 835.1 2394.4 829.0 2383.3 824.0C2372.2 819.0 2357.8 809.6 2350.0 807.3C2342.2 805.1 2339.4 807.9 2336.7 810.7C2333.9 813.4 2337.8 819.0 2333.3 824.0C2328.9 829.0 2319.4 837.3 2310.0 840.7C2300.6 844.0 2287.8 844.6 2276.7 844.0C2265.6 843.4 2253.3 840.7 2243.3 837.3C2233.3 834.0 2223.3 829.1 2216.7 824.0C2210.0 818.9 2205.0 812.3 2203.3 806.7C2201.7 801.0 2201.7 795.6 2206.7 790.0Z" fill="#ff0000" stroke="#ffee00" stroke-width="7" paint-order="stroke" stroke-linejoin="round"/>
<path d="M2171.7 753.3C2173.9 750.6 2184.2 748.3 2190.0 750.0C2195.8 751.7 2204.4 757.8 2206.7 763.3C2208.9 768.9 2206.1 781.1 2203.3 783.3C2200.6 785.6 2194.4 779.4 2190.0 776.7C2185.6 773.9 2179.7 770.6 2176.7 766.7C2173.6 762.8 2169.4 756.1 2171.7 753.3Z" fill="#ff0000" stroke="#ffee00" stroke-width="7" paint-order="stroke" stroke-linejoin="round"/>
<path d="M2543.3 803.3C2545.6 796.6 2555.6 795.6 2563.3 790.0C2571.1 784.4 2580.0 776.7 2590.0 770.0C2600.0 763.3 2612.2 754.9 2623.3 750.0C2634.4 745.1 2646.7 741.7 2656.7 740.7C2666.7 739.7 2675.6 740.2 2683.3 744.0C2691.1 747.8 2697.8 755.7 2703.3 763.3C2708.9 771.0 2713.2 781.7 2716.7 790.0C2720.1 798.3 2724.0 804.4 2724.0 813.3C2724.0 822.2 2721.2 835.0 2716.7 843.3C2712.1 851.7 2705.0 857.7 2696.7 863.3C2688.3 869.0 2677.2 875.0 2666.7 877.3C2656.1 879.7 2644.4 879.0 2633.3 877.3C2622.2 875.7 2610.6 871.8 2600.0 867.3C2589.4 862.9 2578.3 856.8 2570.0 850.7C2561.7 844.6 2554.4 838.6 2550.0 830.7C2545.6 822.8 2541.1 810.1 2543.3 803.3Z" fill="#ff0000" stroke="#ffee00" stroke-width="7" paint-order="stroke" stroke-linejoin="round"/>
<path d="M2726.7 810.7C2727.8 808.4 2743.9 826.3 2756.7 824.0C2769.4 821.7 2795.6 788.3 2803.3 796.7C2811.1 805.0 2807.8 863.9 2803.3 874.0C2798.9 884.1 2785.6 863.4 2776.7 857.3C2767.8 851.2 2758.3 845.1 2750.0 837.3C2741.7 829.6 2725.6 812.9 2726.7 810.7Z" fill="#ff0000" stroke="#ffee00" stroke-width="7" paint-order="stroke" stroke-linejoin="round"/>
<path d="M2713.3 870.0C2714.4 862.1 2723.9 840.6 2730.0 836.7C2736.1 832.8 2743.3 840.6 2750.0 846.7C2756.7 852.8 2766.0 865.4 2770.0 873.3C2774.0 881.2 2777.3 891.1 2774.0 894.0C2770.7 896.9 2758.4 892.3 2750.0 890.7C2741.6 889.0 2729.4 887.4 2723.3 884.0C2717.2 880.6 2712.2 877.9 2713.3 870.0Z" fill="#0000ff" stroke="#00ffff" stroke-width="7" paint-order="stroke" stroke-linejoin="round"/>
<path d="M2293.3 850.0C2294.4 845.3 2308.3 836.7 2316.7 834.0C2325.0 831.3 2337.1 831.3 2343.3 834.0C2349.6 836.7 2354.6 845.3 2354.0 850.0C2353.4 854.7 2347.3 860.3 2340.0 862.3C2332.7 864.4 2317.8 864.4 2310.0 862.3C2302.2 860.3 2292.2 854.7 2293.3 850.0Z" fill="#0000ff" stroke="#00ffff" stroke-width="7" paint-order="stroke" stroke-linejoin="round"/>
<path d="M2373.3 660.0C2376.1 656.7 2390.6 649.6 2400.0 647.3C2409.4 645.1 2423.8 644.6 2430.0 646.7C2436.2 648.8 2439.6 656.0 2437.3 660.0C2435.1 664.0 2425.7 669.4 2416.7 670.7C2407.7 671.9 2390.6 669.1 2383.3 667.3C2376.1 665.6 2370.6 663.3 2373.3 660.0Z" fill="#ff0000" stroke="#ffee00" stroke-width="7" paint-order="stroke" stroke-linejoin="round"/>
<path d="M2226.7 860.0C2226.7 858.2 2242.8 861.1 2250.0 863.3C2257.2 865.6 2270.0 871.6 2270.0 873.3C2270.0 875.1 2257.2 876.2 2250.0 874.0C2242.8 871.8 2226.7 861.8 2226.7 860.0Z" fill="#ff0000" stroke="#ffee00" stroke-width="7" paint-order="stroke" stroke-linejoin="round"/>
<rect x="1452" y="749" width="34" height="25" fill="#fff" stroke="#000" stroke-width="4.5"/>
<circle cx="1785.6" cy="769" r="13" fill="#fff" stroke="#000" stroke-width="4.5"/>
<ellipse cx="2200" cy="696" rx="96" ry="84" fill="none" stroke="#000" stroke-width="5" stroke-dasharray="14 9"/>
<ellipse cx="2107" cy="805" rx="99" ry="83" fill="none" stroke="#000" stroke-width="5" stroke-dasharray="14 9"/>
<text x="2296" y="638" font-family="Liberation Serif,serif" font-size="72" fill="#000">T</text>
<text x="2188" y="922" font-family="Liberation Serif,serif" font-size="72" fill="#000">T</text>
</g>
<rect x="1467.0" y="550.0" width="1327" height="414" fill="none" stroke="#00c800" stroke-width="4"/>
</g>
<g clip-path="url(#clipe)">
<rect x="1467" y="1041" width="1325" height="419" fill="#00ff00"/>
<g filter="url(#soft)">
<path d="M2016.7 1386.7C2022.2 1384.4 2050.0 1388.3 2066.7 1390.0C2083.3 1391.7 2111.1 1393.9 2116.7 1396.7C2122.2 1399.4 2113.9 1405.6 2100.0 1406.7C2086.1 1407.8 2047.2 1406.7 2033.3 1403.3C2019.4 1400.0 2011.1 1388.9 2016.7 1386.7Z" fill="#ffee00" filter="url(#haze)" opacity="0.6"/>
<path d="M2100.0 1106.7C2100.0 1103.3 2136.1 1098.9 2150.0 1100.0C2163.9 1101.1 2183.3 1110.0 2183.3 1113.3C2183.3 1116.7 2163.9 1121.1 2150.0 1120.0C2136.1 1118.9 2100.0 1110.0 2100.0 1106.7Z" fill="#ffee00" filter="url(#haze)" opacity="0.6"/>
<path d="M1926.7 1120.0C1930.6 1117.2 1951.7 1111.1 1966.7 1110.0C1981.7 1108.9 2011.1 1110.6 2016.7 1113.3C2022.2 1116.1 2012.2 1124.4 2000.0 1126.7C1987.8 1128.9 1955.6 1127.8 1943.3 1126.7C1931.1 1125.6 1922.8 1122.8 1926.7 1120.0Z" fill="#00ffe0" filter="url(#haze)" opacity="0.6"/>
<path d="M2333.3 1086.7C2333.3 1082.2 2366.7 1073.3 2383.3 1073.3C2400.0 1073.3 2433.3 1082.2 2433.3 1086.7C2433.3 1091.1 2400.0 1100.0 2383.3 1100.0C2366.7 1100.0 2333.3 1091.1 2333.3 1086.7Z" fill="#ffee00" filter="url(#haze)" opacity="0.6"/>
<path d="M2316.7 1406.7C2319.4 1403.3 2352.8 1401.7 2366.7 1403.3C2380.6 1405.0 2402.8 1413.3 2400.0 1416.7C2397.2 1420.0 2363.9 1425.0 2350.0 1423.3C2336.1 1421.7 2313.9 1410.0 2316.7 1406.7Z" fill="#ffee00" filter="url(#haze)" opacity="0.6"/>
<path d="M2183.3 1086.7C2183.3 1082.8 2205.6 1078.9 2216.7 1080.0C2227.8 1081.1 2250.0 1089.4 2250.0 1093.3C2250.0 1097.2 2227.8 1104.4 2216.7 1103.3C2205.6 1102.2 2183.3 1090.6 2183.3 1086.7Z" fill="#00ffe0" filter="url(#haze)" opacity="0.6"/>
<path d="M1648.7 1212.1C1649.9 1203.1 1659.0 1195.1 1664.2 1188.8C1669.4 1182.6 1673.3 1178.7 1679.7 1174.9C1686.2 1171.0 1695.3 1167.6 1703.0 1165.5C1710.8 1163.5 1718.6 1162.4 1726.3 1162.4C1734.1 1162.4 1741.9 1163.5 1749.6 1165.5C1757.4 1167.6 1765.9 1171.0 1772.9 1174.9C1779.9 1178.7 1786.7 1183.9 1791.6 1188.8C1796.5 1193.8 1800.1 1199.2 1802.5 1204.4C1804.8 1209.6 1805.3 1214.7 1805.6 1219.9C1805.8 1225.1 1804.5 1230.3 1804.0 1235.4C1803.5 1240.6 1801.2 1246.6 1802.5 1251.0C1803.7 1255.4 1808.7 1258.0 1811.8 1261.9C1814.9 1265.7 1818.8 1270.1 1821.1 1274.3C1823.4 1278.4 1825.2 1282.0 1825.8 1286.7C1826.3 1291.4 1825.8 1297.6 1824.2 1302.2C1822.6 1306.9 1819.8 1311.6 1816.4 1314.7C1813.1 1317.8 1805.3 1318.3 1804.0 1320.9C1802.7 1323.5 1810.0 1328.1 1808.7 1330.2C1807.4 1332.3 1800.9 1334.1 1796.2 1333.3C1791.6 1332.5 1785.1 1328.9 1780.7 1325.5C1776.3 1322.2 1772.9 1317.5 1769.8 1313.1C1766.7 1308.7 1764.4 1304.1 1762.1 1299.1C1759.7 1294.2 1757.7 1288.8 1755.8 1283.6C1754.0 1278.4 1752.7 1272.7 1751.2 1268.1C1749.6 1263.4 1748.9 1259.8 1746.5 1255.6C1744.2 1251.5 1740.6 1247.9 1737.2 1243.2C1733.8 1238.6 1730.5 1227.7 1726.3 1227.7C1722.2 1227.7 1717.5 1237.5 1712.3 1243.2C1707.2 1248.9 1702.0 1259.3 1695.3 1261.9C1688.5 1264.4 1678.4 1261.9 1672.0 1258.7C1665.5 1255.6 1660.3 1251.0 1656.4 1243.2C1652.5 1235.4 1647.4 1221.2 1648.7 1212.1Z" fill="#0000ff" stroke="#00ffff" stroke-width="7" paint-order="stroke" stroke-linejoin="round"/>
<path d="M1473.1 1234.7C1475.2 1228.5 1479.6 1225.0 1485.5 1221.5C1491.5 1218.0 1501.1 1215.2 1508.8 1213.7C1516.6 1212.1 1524.4 1211.9 1532.1 1212.1C1539.9 1212.4 1547.7 1212.9 1555.4 1215.2C1563.2 1217.6 1572.3 1222.2 1578.7 1226.1C1585.2 1230.0 1589.9 1234.1 1594.3 1238.6C1598.7 1243.0 1602.0 1247.6 1605.2 1252.5C1608.3 1257.5 1610.6 1263.7 1612.9 1268.1C1615.3 1272.5 1616.3 1277.1 1619.1 1278.9C1622.0 1280.8 1627.4 1277.9 1630.0 1278.9C1632.6 1280.0 1636.7 1283.0 1634.7 1285.2C1632.6 1287.3 1623.0 1290.7 1617.6 1291.7C1612.1 1292.6 1607.2 1292.5 1602.0 1290.9C1596.9 1289.4 1591.7 1285.9 1586.5 1282.4C1581.3 1278.9 1576.2 1274.1 1571.0 1269.9C1565.8 1265.8 1561.9 1261.1 1555.4 1257.5C1549.0 1253.9 1538.6 1251.3 1532.1 1248.2C1525.7 1245.1 1523.1 1239.7 1516.6 1238.9C1510.1 1238.0 1500.6 1239.9 1493.3 1243.2C1486.1 1246.5 1476.5 1260.2 1473.1 1258.7C1469.7 1257.3 1471.0 1240.9 1473.1 1234.7Z" fill="#0000ff" stroke="#00ffff" stroke-width="7" paint-order="stroke" stroke-linejoin="round"/>
<path d="M1474.7 1258.7C1470.3 1263.9 1472.8 1265.0 1474.7 1268.1C1476.5 1271.2 1481.1 1274.8 1485.5 1277.4C1489.9 1280.0 1494.6 1282.0 1501.1 1283.6C1507.5 1285.2 1516.6 1286.2 1524.4 1286.7C1532.1 1287.2 1539.9 1285.7 1547.7 1286.7C1555.4 1287.7 1564.5 1290.3 1571.0 1292.9C1577.5 1295.5 1581.3 1299.7 1586.5 1302.2C1591.7 1304.8 1595.6 1307.1 1602.0 1308.5C1608.5 1309.8 1617.6 1310.8 1625.4 1310.3C1633.1 1309.8 1642.2 1307.5 1648.7 1305.4C1655.1 1303.2 1659.0 1301.5 1664.2 1297.6C1669.4 1293.7 1674.5 1288.0 1679.7 1282.0C1684.9 1276.1 1690.9 1267.3 1695.3 1261.9C1699.7 1256.4 1703.3 1253.6 1706.1 1249.4C1709.0 1245.3 1710.8 1241.9 1712.3 1237.0C1713.9 1232.1 1714.2 1224.1 1715.5 1219.9C1716.8 1215.8 1718.0 1212.7 1720.1 1212.1C1722.2 1211.6 1724.5 1213.4 1727.9 1216.8C1731.3 1220.2 1736.2 1227.9 1740.3 1232.3C1744.5 1236.7 1748.1 1239.6 1752.7 1243.2C1757.4 1246.8 1763.1 1250.8 1768.3 1254.1C1773.5 1257.3 1778.9 1260.0 1783.8 1262.6C1788.7 1265.2 1794.0 1267.3 1797.8 1269.6C1801.5 1272.0 1806.1 1276.9 1806.3 1276.6C1806.6 1276.4 1802.6 1270.9 1799.3 1268.1C1796.1 1265.2 1791.6 1262.6 1786.9 1259.5C1782.3 1256.4 1776.6 1252.9 1771.4 1249.4C1766.2 1245.9 1760.5 1242.2 1755.8 1238.6C1751.2 1234.9 1747.0 1232.1 1743.4 1227.7C1739.8 1223.3 1737.2 1216.3 1734.1 1212.1C1731.0 1208.0 1727.4 1207.0 1724.8 1202.8C1722.2 1198.7 1721.7 1190.7 1718.6 1187.3C1715.5 1183.9 1710.8 1183.1 1706.1 1182.6C1701.5 1182.1 1696.3 1182.4 1690.6 1184.2C1684.9 1186.0 1677.7 1189.4 1672.0 1193.5C1666.3 1197.6 1660.8 1203.3 1656.4 1209.0C1652.0 1214.7 1648.1 1220.9 1645.5 1227.7C1643.0 1234.4 1642.2 1242.7 1640.9 1249.4C1639.6 1256.2 1639.3 1262.9 1637.8 1268.1C1636.2 1273.2 1634.7 1276.9 1631.6 1280.5C1628.5 1284.1 1624.1 1288.3 1619.1 1289.8C1614.2 1291.4 1607.5 1291.1 1602.0 1289.8C1596.6 1288.5 1591.7 1285.4 1586.5 1282.0C1581.3 1278.7 1576.2 1273.8 1571.0 1269.6C1565.8 1265.5 1561.9 1260.8 1555.4 1257.2C1549.0 1253.6 1538.6 1251.2 1532.1 1247.9C1525.7 1244.5 1521.8 1238.8 1516.6 1237.0C1511.4 1235.2 1508.1 1233.4 1501.1 1237.0C1494.1 1240.6 1479.1 1253.6 1474.7 1258.7Z" fill="#ff0000" stroke="#ffee00" stroke-width="7" paint-order="stroke" stroke-linejoin="round"/>
<path d="M1668.9 1246.3C1669.1 1242.7 1673.5 1238.6 1676.6 1233.9C1679.7 1229.2 1683.9 1223.5 1687.5 1218.4C1691.1 1213.2 1694.7 1207.2 1698.4 1202.8C1702.0 1198.4 1705.9 1194.4 1709.2 1191.9C1712.6 1189.5 1716.5 1187.8 1718.6 1188.1C1720.6 1188.4 1722.7 1191.1 1721.7 1193.8C1720.6 1196.5 1715.5 1200.3 1712.3 1204.4C1709.2 1208.5 1706.1 1213.4 1703.0 1218.4C1699.9 1223.3 1696.3 1229.7 1693.7 1233.9C1691.1 1238.0 1689.0 1240.1 1687.5 1243.2C1685.9 1246.3 1686.5 1250.5 1684.4 1252.5C1682.3 1254.6 1677.7 1256.7 1675.1 1255.6C1672.5 1254.6 1668.6 1249.9 1668.9 1246.3Z" fill="#0000ff" stroke="#00ffff" stroke-width="7" paint-order="stroke" stroke-linejoin="round"/>
<path d="M1923.3 1146.7C1930.6 1146.7 1937.8 1151.1 1940.0 1156.7C1942.2 1162.2 1938.3 1171.7 1936.7 1180.0C1935.0 1188.3 1931.7 1197.8 1930.0 1206.7C1928.3 1215.6 1927.8 1224.4 1926.7 1233.3C1925.6 1242.2 1925.0 1251.1 1923.3 1260.0C1921.7 1268.9 1919.4 1277.8 1916.7 1286.7C1913.9 1295.6 1910.6 1305.0 1906.7 1313.3C1902.8 1321.7 1898.3 1329.4 1893.3 1336.7C1888.3 1343.9 1883.9 1351.7 1876.7 1356.7C1869.4 1361.7 1860.0 1365.6 1850.0 1366.7C1840.0 1367.8 1825.6 1365.6 1816.7 1363.3C1807.8 1361.1 1801.7 1356.7 1796.7 1353.3C1791.7 1350.0 1785.6 1345.6 1786.7 1343.3C1787.8 1341.1 1795.6 1340.0 1803.3 1340.0C1811.1 1340.0 1825.6 1343.9 1833.3 1343.3C1841.1 1342.8 1847.2 1342.2 1850.0 1336.7C1852.8 1331.1 1849.4 1319.4 1850.0 1310.0C1850.6 1300.6 1851.7 1289.4 1853.3 1280.0C1855.0 1270.6 1857.2 1262.2 1860.0 1253.3C1862.8 1244.4 1866.7 1236.7 1870.0 1226.7C1873.3 1216.7 1877.2 1202.2 1880.0 1193.3C1882.8 1184.4 1883.9 1179.4 1886.7 1173.3C1889.4 1167.2 1890.6 1161.1 1896.7 1156.7C1902.8 1152.2 1916.1 1146.7 1923.3 1146.7Z" fill="#ff0000" stroke="#ffee00" stroke-width="7" paint-order="stroke" stroke-linejoin="round"/>
<path d="M1983.3 1133.3C1990.0 1130.6 2002.2 1127.8 2010.0 1130.0C2017.8 1132.2 2025.6 1140.0 2030.0 1146.7C2034.4 1153.3 2036.1 1161.1 2036.7 1170.0C2037.2 1178.9 2035.0 1191.7 2033.3 1200.0C2031.7 1208.3 2026.1 1212.2 2026.7 1220.0C2027.2 1227.8 2032.8 1237.8 2036.7 1246.7C2040.6 1255.6 2047.2 1263.9 2050.0 1273.3C2052.8 1282.8 2053.9 1292.8 2053.3 1303.3C2052.8 1313.9 2048.9 1327.8 2046.7 1336.7C2044.4 1345.6 2039.4 1350.4 2040.0 1356.7C2040.6 1362.9 2051.1 1370.6 2050.0 1374.0C2048.9 1377.4 2040.0 1377.9 2033.3 1377.3C2026.7 1376.8 2016.7 1375.2 2010.0 1370.7C2003.3 1366.1 1997.2 1358.4 1993.3 1350.0C1989.4 1341.6 1987.2 1329.4 1986.7 1320.0C1986.1 1310.6 1988.3 1302.2 1990.0 1293.3C1991.7 1284.4 1996.1 1274.4 1996.7 1266.7C1997.2 1258.9 1996.7 1254.4 1993.3 1246.7C1990.0 1238.9 1981.1 1228.9 1976.7 1220.0C1972.2 1211.1 1968.6 1202.2 1966.7 1193.3C1964.7 1184.4 1964.4 1174.4 1965.0 1166.7C1965.6 1158.9 1966.9 1152.2 1970.0 1146.7C1973.1 1141.1 1976.7 1136.1 1983.3 1133.3Z" fill="#0000ff" stroke="#00ffff" stroke-width="7" paint-order="stroke" stroke-linejoin="round"/>
<path d="M2116.7 1123.3C2122.8 1121.1 2136.1 1118.3 2143.3 1120.0C2150.6 1121.7 2155.6 1126.7 2160.0 1133.3C2164.4 1140.0 2167.8 1150.0 2170.0 1160.0C2172.2 1170.0 2173.9 1183.3 2173.3 1193.3C2172.8 1203.3 2170.0 1212.2 2166.7 1220.0C2163.3 1227.8 2156.7 1234.4 2153.3 1240.0C2150.0 1245.6 2146.7 1247.8 2146.7 1253.3C2146.7 1258.9 2150.0 1265.6 2153.3 1273.3C2156.7 1281.1 2163.9 1290.0 2166.7 1300.0C2169.4 1310.0 2170.6 1323.3 2170.0 1333.3C2169.4 1343.3 2167.8 1352.8 2163.3 1360.0C2158.9 1367.2 2150.6 1373.6 2143.3 1376.7C2136.1 1379.7 2127.2 1379.4 2120.0 1378.3C2112.8 1377.2 2105.6 1375.3 2100.0 1370.0C2094.4 1364.7 2089.4 1355.6 2086.7 1346.7C2083.9 1337.8 2082.8 1326.7 2083.3 1316.7C2083.9 1306.7 2086.7 1295.0 2090.0 1286.7C2093.3 1278.3 2099.4 1272.8 2103.3 1266.7C2107.2 1260.6 2113.3 1255.6 2113.3 1250.0C2113.3 1244.4 2106.1 1240.6 2103.3 1233.3C2100.6 1226.1 2098.3 1215.6 2096.7 1206.7C2095.0 1197.8 2093.3 1188.9 2093.3 1180.0C2093.3 1171.1 2094.4 1161.1 2096.7 1153.3C2098.9 1145.6 2103.3 1138.3 2106.7 1133.3C2110.0 1128.3 2110.6 1125.6 2116.7 1123.3Z" fill="#ff0000" stroke="#ffee00" stroke-width="7" paint-order="stroke" stroke-linejoin="round"/>
<path d="M2230.0 1120.0C2237.2 1115.6 2248.3 1115.0 2256.7 1116.7C2265.0 1118.3 2273.9 1123.9 2280.0 1130.0C2286.1 1136.1 2290.6 1143.9 2293.3 1153.3C2296.1 1162.8 2297.2 1175.6 2296.7 1186.7C2296.1 1197.8 2293.9 1211.1 2290.0 1220.0C2286.1 1228.9 2277.2 1234.4 2273.3 1240.0C2269.4 1245.6 2266.1 1247.8 2266.7 1253.3C2267.2 1258.9 2273.3 1264.4 2276.7 1273.3C2280.0 1282.2 2285.0 1295.6 2286.7 1306.7C2288.3 1317.8 2288.3 1330.0 2286.7 1340.0C2285.0 1350.0 2281.7 1360.6 2276.7 1366.7C2271.7 1372.8 2263.9 1375.0 2256.7 1376.7C2249.4 1378.3 2240.0 1378.3 2233.3 1376.7C2226.7 1375.0 2221.1 1372.8 2216.7 1366.7C2212.2 1360.6 2208.3 1350.0 2206.7 1340.0C2205.0 1330.0 2205.0 1316.7 2206.7 1306.7C2208.3 1296.7 2212.8 1287.8 2216.7 1280.0C2220.6 1272.2 2227.2 1265.0 2230.0 1260.0C2232.8 1255.0 2235.0 1254.4 2233.3 1250.0C2231.7 1245.6 2223.9 1240.6 2220.0 1233.3C2216.1 1226.1 2212.2 1216.7 2210.0 1206.7C2207.8 1196.7 2206.1 1183.9 2206.7 1173.3C2207.2 1162.8 2209.4 1152.2 2213.3 1143.3C2217.2 1134.4 2222.8 1124.4 2230.0 1120.0Z" fill="#0000ff" stroke="#00ffff" stroke-width="7" paint-order="stroke" stroke-linejoin="round"/>
<path d="M2383.3 1116.7C2389.4 1118.3 2399.4 1122.8 2403.3 1130.0C2407.2 1137.2 2407.2 1149.4 2406.7 1160.0C2406.1 1170.6 2402.2 1183.3 2400.0 1193.3C2397.8 1203.3 2393.9 1211.1 2393.3 1220.0C2392.8 1228.9 2393.9 1237.8 2396.7 1246.7C2399.4 1255.6 2406.1 1263.3 2410.0 1273.3C2413.9 1283.3 2418.3 1295.6 2420.0 1306.7C2421.7 1317.8 2421.7 1330.0 2420.0 1340.0C2418.3 1350.0 2415.0 1359.4 2410.0 1366.7C2405.0 1373.9 2397.2 1380.0 2390.0 1383.3C2382.8 1386.7 2373.9 1387.8 2366.7 1386.7C2359.4 1385.6 2351.7 1382.2 2346.7 1376.7C2341.7 1371.1 2338.3 1362.8 2336.7 1353.3C2335.0 1343.9 2336.1 1331.1 2336.7 1320.0C2337.2 1308.9 2341.1 1295.6 2340.0 1286.7C2338.9 1277.8 2332.8 1275.6 2330.0 1266.7C2327.2 1257.8 2324.4 1244.4 2323.3 1233.3C2322.2 1222.2 2321.7 1211.7 2323.3 1200.0C2325.0 1188.3 2328.9 1174.4 2333.3 1163.3C2337.8 1152.2 2344.4 1140.6 2350.0 1133.3C2355.6 1126.1 2361.1 1122.8 2366.7 1120.0C2372.2 1117.2 2377.2 1115.0 2383.3 1116.7Z" fill="#ff0000" stroke="#ffee00" stroke-width="7" paint-order="stroke" stroke-linejoin="round"/>
<path d="M2496.7 1111.7C2504.4 1108.9 2513.3 1111.9 2520.0 1116.7C2526.7 1121.4 2532.8 1130.6 2536.7 1140.0C2540.6 1149.4 2542.8 1162.2 2543.3 1173.3C2543.9 1184.4 2542.8 1195.6 2540.0 1206.7C2537.2 1217.8 2530.6 1228.9 2526.7 1240.0C2522.8 1251.1 2519.4 1262.2 2516.7 1273.3C2513.9 1284.4 2510.6 1295.6 2510.0 1306.7C2509.4 1317.8 2511.7 1328.9 2513.3 1340.0C2515.0 1351.1 2520.0 1365.6 2520.0 1373.3C2520.0 1381.1 2517.2 1383.9 2513.3 1386.7C2509.4 1389.4 2503.3 1391.1 2496.7 1390.0C2490.0 1388.9 2480.6 1386.1 2473.3 1380.0C2466.1 1373.9 2458.9 1364.4 2453.3 1353.3C2447.8 1342.2 2442.8 1326.7 2440.0 1313.3C2437.2 1300.0 2436.7 1286.7 2436.7 1273.3C2436.7 1260.0 2437.8 1246.7 2440.0 1233.3C2442.2 1220.0 2445.6 1205.6 2450.0 1193.3C2454.4 1181.1 2462.8 1170.0 2466.7 1160.0C2470.6 1150.0 2468.3 1141.4 2473.3 1133.3C2478.3 1125.3 2488.9 1114.4 2496.7 1111.7Z" fill="#0000ff" stroke="#00ffff" stroke-width="7" paint-order="stroke" stroke-linejoin="round"/>
<path d="M2626.7 1100.0C2631.7 1099.4 2641.1 1101.1 2643.3 1106.7C2645.6 1112.2 2642.2 1124.4 2640.0 1133.3C2637.8 1142.2 2632.8 1150.0 2630.0 1160.0C2627.2 1170.0 2623.3 1182.2 2623.3 1193.3C2623.3 1204.4 2627.2 1215.6 2630.0 1226.7C2632.8 1237.8 2636.1 1248.9 2640.0 1260.0C2643.9 1271.1 2649.4 1282.2 2653.3 1293.3C2657.2 1304.4 2661.7 1315.6 2663.3 1326.7C2665.0 1337.8 2665.6 1350.6 2663.3 1360.0C2661.1 1369.4 2656.1 1378.3 2650.0 1383.3C2643.9 1388.3 2633.3 1390.0 2626.7 1390.0C2620.0 1390.0 2614.4 1387.2 2610.0 1383.3C2605.6 1379.4 2604.4 1372.2 2600.0 1366.7C2595.6 1361.1 2589.4 1355.6 2583.3 1350.0C2577.2 1344.4 2568.9 1340.6 2563.3 1333.3C2557.8 1326.1 2553.3 1316.7 2550.0 1306.7C2546.7 1296.7 2543.9 1285.6 2543.3 1273.3C2542.8 1261.1 2544.4 1245.6 2546.7 1233.3C2548.9 1221.1 2552.2 1211.1 2556.7 1200.0C2561.1 1188.9 2567.2 1177.8 2573.3 1166.7C2579.4 1155.6 2586.7 1142.8 2593.3 1133.3C2600.0 1123.9 2607.8 1115.6 2613.3 1110.0C2618.9 1104.4 2621.7 1100.6 2626.7 1100.0Z" fill="#ff0000" stroke="#ffee00" stroke-width="7" paint-order="stroke" stroke-linejoin="round"/>
<path d="M2756.7 1103.3C2761.1 1102.2 2771.7 1106.1 2776.7 1110.0C2781.7 1113.9 2783.3 1118.3 2786.7 1126.7C2790.0 1135.0 2798.9 1151.1 2796.7 1160.0C2794.4 1168.9 2781.1 1173.3 2773.3 1180.0C2765.6 1186.7 2756.7 1192.2 2750.0 1200.0C2743.3 1207.8 2736.7 1216.7 2733.3 1226.7C2730.0 1236.7 2729.4 1248.9 2730.0 1260.0C2730.6 1271.1 2732.8 1283.3 2736.7 1293.3C2740.6 1303.3 2748.3 1311.1 2753.3 1320.0C2758.3 1328.9 2763.3 1337.8 2766.7 1346.7C2770.0 1355.6 2771.7 1363.9 2773.3 1373.3C2775.0 1382.8 2779.4 1397.2 2776.7 1403.3C2773.9 1409.4 2763.9 1410.6 2756.7 1410.0C2749.4 1409.4 2741.1 1405.0 2733.3 1400.0C2725.6 1395.0 2717.8 1387.8 2710.0 1380.0C2702.2 1372.2 2693.9 1363.3 2686.7 1353.3C2679.4 1343.3 2672.2 1331.1 2666.7 1320.0C2661.1 1308.9 2656.7 1297.8 2653.3 1286.7C2650.0 1275.6 2647.2 1264.4 2646.7 1253.3C2646.1 1242.2 2647.2 1231.1 2650.0 1220.0C2652.8 1208.9 2657.8 1196.1 2663.3 1186.7C2668.9 1177.2 2675.6 1170.6 2683.3 1163.3C2691.1 1156.1 2701.1 1149.4 2710.0 1143.3C2718.9 1137.2 2730.0 1131.1 2736.7 1126.7C2743.3 1122.2 2746.7 1120.6 2750.0 1116.7C2753.3 1112.8 2752.2 1104.4 2756.7 1103.3Z" fill="#0000ff" stroke="#00ffff" stroke-width="7" paint-order="stroke" stroke-linejoin="round"/>
<path d="M2798.3 1171.7C2793.1 1146.9 2775.8 1187.5 2766.7 1196.7C2757.5 1205.8 2749.2 1216.1 2743.3 1226.7C2737.5 1237.2 2733.3 1248.9 2731.7 1260.0C2730.0 1271.1 2730.3 1283.9 2733.3 1293.3C2736.4 1302.8 2743.3 1310.0 2750.0 1316.7C2756.7 1323.3 2765.3 1328.6 2773.3 1333.3C2781.4 1338.1 2794.2 1371.9 2798.3 1345.0C2802.5 1318.1 2803.6 1196.4 2798.3 1171.7Z" fill="#ff0000" stroke="#ffee00" stroke-width="7" paint-order="stroke" stroke-linejoin="round"/>
<rect x="1476.5" y="1237.5" width="34" height="29.5" rx="3" fill="#fff" stroke="#000" stroke-width="6"/>
<circle cx="1680.5" cy="1250.2" r="7.5" fill="#fff" stroke="#000" stroke-width="4"/>
</g>
<rect x="1469.0" y="1043.0" width="1321" height="415" fill="none" stroke="#00c800" stroke-width="4"/>
</g>
<g clip-path="url(#clipf)">
<rect x="56" y="1043" width="1314" height="417" fill="#00ff00"/>
<g filter="url(#soft)">
<path d="M1250.0 1373.3C1253.9 1370.6 1273.9 1378.9 1283.3 1386.7C1292.8 1394.4 1306.7 1412.8 1306.7 1420.0C1306.7 1427.2 1291.1 1432.8 1283.3 1430.0C1275.6 1427.2 1265.6 1412.8 1260.0 1403.3C1254.4 1393.9 1246.1 1376.1 1250.0 1373.3Z" fill="#ffee00" filter="url(#haze)" opacity="0.6"/>
<path d="M1100.0 1443.3C1105.6 1441.7 1144.4 1448.3 1166.7 1450.0C1188.9 1451.7 1225.0 1451.1 1233.3 1453.3C1241.7 1455.6 1233.3 1462.2 1216.7 1463.3C1200.0 1464.4 1152.8 1463.3 1133.3 1460.0C1113.9 1456.7 1094.4 1445.0 1100.0 1443.3Z" fill="#00ffe0" filter="url(#haze)" opacity="0.6"/>
<path d="M1093.3 1080.0C1092.2 1074.4 1111.1 1070.6 1120.0 1073.3C1128.9 1076.1 1145.6 1091.1 1146.7 1096.7C1147.8 1102.2 1135.6 1109.4 1126.7 1106.7C1117.8 1103.9 1094.4 1085.6 1093.3 1080.0Z" fill="#00ffe0" filter="url(#haze)" opacity="0.6"/>
<path d="M61.7 1236.7C62.8 1230.0 72.5 1221.7 80.0 1216.7C87.5 1211.7 96.7 1208.9 106.7 1206.7C116.7 1204.4 128.9 1203.6 140.0 1203.3C151.1 1203.1 165.0 1205.0 173.3 1205.0C181.7 1205.0 183.3 1205.8 190.0 1203.3C196.7 1200.8 205.0 1193.9 213.3 1190.0C221.7 1186.1 230.0 1182.5 240.0 1180.0C250.0 1177.5 262.2 1174.4 273.3 1175.0C284.4 1175.6 297.2 1178.6 306.7 1183.3C316.1 1188.1 323.3 1195.0 330.0 1203.3C336.7 1211.7 342.2 1222.8 346.7 1233.3C351.1 1243.9 353.3 1255.6 356.7 1266.7C360.0 1277.8 363.3 1291.1 366.7 1300.0C370.0 1308.9 373.4 1315.7 376.7 1320.0C379.9 1324.3 388.2 1325.0 386.0 1326.0C383.8 1327.0 372.1 1328.7 363.3 1326.0C354.6 1323.3 341.7 1316.6 333.3 1310.0C325.0 1303.4 319.4 1295.0 313.3 1286.7C307.2 1278.3 302.2 1268.3 296.7 1260.0C291.1 1251.7 284.4 1242.8 280.0 1236.7C275.6 1230.6 274.4 1227.2 270.0 1223.3C265.6 1219.4 260.6 1213.9 253.3 1213.3C246.1 1212.8 240.0 1213.3 226.7 1220.0C213.3 1226.7 190.6 1246.7 173.3 1253.3C156.1 1260.0 140.0 1259.4 123.3 1260.0C106.7 1260.6 83.6 1260.6 73.3 1256.7C63.1 1252.8 60.6 1243.3 61.7 1236.7Z" fill="#0000ff" stroke="#00ffff" stroke-width="7" paint-order="stroke" stroke-linejoin="round"/>
<path d="M440.0 1146.7C440.0 1141.0 461.1 1130.7 473.3 1126.0C485.6 1121.3 500.6 1119.1 513.3 1118.7C526.1 1118.2 538.9 1119.8 550.0 1123.3C561.1 1126.9 571.1 1133.3 580.0 1140.0C588.9 1146.7 597.7 1154.4 603.3 1163.3C609.0 1172.2 611.7 1182.8 614.0 1193.3C616.3 1203.9 617.9 1215.6 617.3 1226.7C616.8 1237.8 613.4 1250.0 610.7 1260.0C607.9 1270.0 604.0 1277.8 600.7 1286.7C597.3 1295.6 590.7 1305.0 590.7 1313.3C590.7 1321.7 594.6 1330.0 600.7 1336.7C606.8 1343.3 617.9 1349.3 627.3 1353.3C636.8 1357.3 653.6 1358.3 657.3 1360.7C661.1 1363.0 655.7 1365.1 650.0 1367.3C644.3 1369.6 633.3 1372.9 623.3 1374.0C613.3 1375.1 599.4 1376.8 590.0 1374.0C580.6 1371.2 573.9 1365.1 566.7 1357.3C559.4 1349.6 552.8 1337.9 546.7 1327.3C540.6 1316.8 534.4 1305.1 530.0 1294.0C525.6 1282.9 522.8 1270.7 520.0 1260.7C517.2 1250.7 515.6 1246.3 513.3 1234.0C511.1 1221.7 513.3 1199.0 506.7 1186.7C500.0 1174.3 484.4 1166.7 473.3 1160.0C462.2 1153.3 440.0 1152.3 440.0 1146.7Z" fill="#0000ff" stroke="#00ffff" stroke-width="7" paint-order="stroke" stroke-linejoin="round"/>
<path d="M61.7 1260.0C60.6 1264.4 59.2 1273.9 66.7 1280.0C74.2 1286.1 91.7 1292.8 106.7 1296.7C121.7 1300.6 141.1 1303.3 156.7 1303.3C172.2 1303.3 187.8 1301.1 200.0 1296.7C212.2 1292.2 221.1 1285.0 230.0 1276.7C238.9 1268.3 247.2 1253.9 253.3 1246.7C259.4 1239.4 263.3 1232.2 266.7 1233.3C270.0 1234.4 270.0 1245.0 273.3 1253.3C276.7 1261.7 281.1 1273.3 286.7 1283.3C292.2 1293.3 298.9 1304.4 306.7 1313.3C314.4 1322.2 325.0 1330.3 333.3 1336.7C341.7 1343.1 347.2 1348.2 356.7 1351.7C366.1 1355.1 378.9 1357.1 390.0 1357.3C401.1 1357.6 413.3 1356.2 423.3 1353.3C433.3 1350.4 442.8 1345.6 450.0 1340.0C457.2 1334.4 462.8 1327.8 466.7 1320.0C470.6 1312.2 471.9 1304.4 473.3 1293.3C474.7 1282.2 474.4 1266.7 475.0 1253.3C475.6 1240.0 475.3 1222.8 476.7 1213.3C478.1 1203.9 480.0 1199.4 483.3 1196.7C486.7 1193.9 492.8 1195.0 496.7 1196.7C500.6 1198.3 503.9 1200.6 506.7 1206.7C509.4 1212.8 510.8 1230.0 513.3 1233.3C515.8 1236.7 521.1 1232.8 521.7 1226.7C522.2 1220.6 518.1 1206.7 516.7 1196.7C515.3 1186.7 516.1 1175.0 513.3 1166.7C510.6 1158.3 506.7 1149.2 500.0 1146.7C493.3 1144.2 483.3 1148.3 473.3 1151.7C463.3 1155.0 450.6 1160.8 440.0 1166.7C429.4 1172.5 418.3 1179.4 410.0 1186.7C401.7 1193.9 394.2 1201.7 390.0 1210.0C385.8 1218.3 384.4 1227.2 385.0 1236.7C385.6 1246.1 390.3 1256.7 393.3 1266.7C396.4 1276.7 401.1 1287.8 403.3 1296.7C405.6 1305.6 409.4 1314.7 406.7 1320.0C403.9 1325.3 394.4 1326.9 386.7 1328.3C378.9 1329.7 368.9 1329.2 360.0 1328.3C351.1 1327.5 341.7 1327.5 333.3 1323.3C325.0 1319.2 316.7 1311.7 310.0 1303.3C303.3 1295.0 298.3 1283.9 293.3 1273.3C288.3 1262.8 283.9 1249.4 280.0 1240.0C276.1 1230.6 274.4 1222.8 270.0 1216.7C265.6 1210.6 260.6 1204.4 253.3 1203.3C246.1 1202.2 235.6 1205.6 226.7 1210.0C217.8 1214.4 208.9 1223.3 200.0 1230.0C191.1 1236.7 183.3 1245.0 173.3 1250.0C163.3 1255.0 148.9 1257.8 140.0 1260.0C131.1 1262.2 131.1 1264.4 120.0 1263.3C108.9 1262.2 83.1 1253.9 73.3 1253.3C63.6 1252.8 62.8 1255.6 61.7 1260.0Z" fill="#ff0000" stroke="#ffee00" stroke-width="7" paint-order="stroke" stroke-linejoin="round"/>
<path d="M400.0 1223.3C401.7 1218.3 408.9 1210.6 416.7 1203.3C424.4 1196.1 436.1 1187.2 446.7 1180.0C457.2 1172.8 468.9 1164.4 480.0 1160.0C491.1 1155.6 503.3 1153.3 513.3 1153.3C523.3 1153.3 532.2 1156.1 540.0 1160.0C547.8 1163.9 554.4 1170.0 560.0 1176.7C565.6 1183.3 571.4 1194.7 573.3 1200.0C575.3 1205.3 574.4 1209.4 571.7 1208.3C568.9 1207.2 563.1 1199.2 556.7 1193.3C550.3 1187.5 541.7 1177.8 533.3 1173.3C525.0 1168.9 515.6 1166.7 506.7 1166.7C497.8 1166.7 489.4 1168.9 480.0 1173.3C470.6 1177.8 459.4 1186.1 450.0 1193.3C440.6 1200.6 430.6 1210.0 423.3 1216.7C416.1 1223.3 410.6 1232.2 406.7 1233.3C402.8 1234.4 398.3 1228.3 400.0 1223.3Z" fill="#0000ff" stroke="#00ffff" stroke-width="7" paint-order="stroke" stroke-linejoin="round"/>
<path d="M800.0 1106.7C791.7 1102.7 776.7 1092.8 766.7 1090.0C756.7 1087.2 749.4 1087.8 740.0 1090.0C730.6 1092.2 720.0 1096.1 710.0 1103.3C700.0 1110.6 688.9 1122.2 680.0 1133.3C671.1 1144.4 663.3 1156.7 656.7 1170.0C650.0 1183.3 643.9 1199.4 640.0 1213.3C636.1 1227.2 634.4 1240.0 633.3 1253.3C632.2 1266.7 632.2 1281.1 633.3 1293.3C634.4 1305.6 636.7 1317.2 640.0 1326.7C643.3 1336.1 650.0 1343.9 653.3 1350.0C656.7 1356.1 663.3 1359.4 660.0 1363.3C656.7 1367.2 641.7 1370.6 633.3 1373.3C625.0 1376.1 613.3 1377.2 610.0 1380.0C606.7 1382.8 606.7 1386.7 613.3 1390.0C620.0 1393.3 638.3 1398.9 650.0 1400.0C661.7 1401.1 673.3 1400.0 683.3 1396.7C693.3 1393.3 702.8 1387.8 710.0 1380.0C717.2 1372.2 722.8 1362.2 726.7 1350.0C730.6 1337.8 731.7 1321.7 733.3 1306.7C735.0 1291.7 736.1 1277.2 736.7 1260.0C737.2 1242.8 737.2 1218.9 736.7 1203.3C736.1 1187.8 735.0 1176.1 733.3 1166.7C731.7 1157.2 726.7 1152.8 726.7 1146.7C726.7 1140.6 728.3 1135.6 733.3 1130.0C738.3 1124.4 747.8 1117.1 756.7 1113.3C765.6 1109.6 776.7 1107.2 786.7 1107.3C796.7 1107.4 814.4 1114.1 816.7 1114.0C818.9 1113.9 808.3 1110.7 800.0 1106.7Z" fill="#ff0000" stroke="#ffee00" stroke-width="7" paint-order="stroke" stroke-linejoin="round"/>
<path d="M790.0 1080.0C791.7 1077.2 808.3 1083.3 816.7 1086.7C825.0 1090.0 832.8 1093.3 840.0 1100.0C847.2 1106.7 855.6 1116.7 860.0 1126.7C864.4 1136.7 866.7 1148.9 866.7 1160.0C866.7 1171.1 863.9 1183.9 860.0 1193.3C856.1 1202.8 849.4 1207.8 843.3 1216.7C837.2 1225.6 826.1 1237.8 823.3 1246.7C820.6 1255.6 823.9 1262.2 826.7 1270.0C829.4 1277.8 834.4 1285.0 840.0 1293.3C845.6 1301.7 852.2 1311.1 860.0 1320.0C867.8 1328.9 880.0 1337.8 886.7 1346.7C893.3 1355.6 893.9 1363.9 900.0 1373.3C906.1 1382.8 918.2 1396.8 923.3 1403.3C928.4 1409.8 933.4 1409.4 930.7 1412.3C927.9 1415.2 916.2 1418.7 906.7 1420.7C897.1 1422.6 884.4 1425.1 873.3 1424.0C862.2 1422.9 851.1 1419.6 840.0 1414.0C828.9 1408.4 816.7 1400.8 806.7 1390.7C796.7 1380.6 787.8 1366.2 780.0 1353.3C772.2 1340.4 765.6 1326.7 760.0 1313.3C754.4 1300.0 749.4 1286.7 746.7 1273.3C743.9 1260.0 743.3 1246.7 743.3 1233.3C743.3 1220.0 744.4 1205.6 746.7 1193.3C748.9 1181.1 752.2 1168.9 756.7 1160.0C761.1 1151.1 766.1 1145.6 773.3 1140.0C780.6 1134.4 793.3 1130.0 800.0 1126.7C806.7 1123.3 812.2 1123.9 813.3 1120.0C814.4 1116.1 810.6 1110.0 806.7 1103.3C802.8 1096.7 788.3 1082.8 790.0 1080.0Z" fill="#0000ff" stroke="#00ffff" stroke-width="7" paint-order="stroke" stroke-linejoin="round"/>
<path d="M1093.3 1086.7C1094.4 1080.0 1082.2 1069.4 1073.3 1063.3C1064.4 1057.2 1051.1 1051.7 1040.0 1050.0C1028.9 1048.3 1017.8 1050.0 1006.7 1053.3C995.6 1056.7 984.4 1062.8 973.3 1070.0C962.2 1077.2 949.4 1086.7 940.0 1096.7C930.6 1106.7 924.4 1117.8 916.7 1130.0C908.9 1142.2 900.6 1158.3 893.3 1170.0C886.1 1181.7 880.0 1190.6 873.3 1200.0C866.7 1209.4 858.3 1216.7 853.3 1226.7C848.3 1236.7 844.4 1248.9 843.3 1260.0C842.2 1271.1 843.3 1281.7 846.7 1293.3C850.0 1305.0 856.7 1318.9 863.3 1330.0C870.0 1341.1 877.8 1352.2 886.7 1360.0C895.6 1367.8 906.1 1373.3 916.7 1376.7C927.2 1380.0 941.7 1380.4 950.0 1380.0C958.3 1379.6 962.2 1372.9 966.7 1374.0C971.1 1375.1 976.7 1380.7 976.7 1386.7C976.7 1392.7 969.4 1404.3 966.7 1410.0C963.9 1415.7 957.8 1419.4 960.0 1420.7C962.2 1421.9 973.3 1421.9 980.0 1417.3C986.7 1412.8 995.6 1401.8 1000.0 1393.3C1004.4 1384.9 1006.7 1376.1 1006.7 1366.7C1006.7 1357.2 1003.9 1346.1 1000.0 1336.7C996.1 1327.2 990.0 1318.3 983.3 1310.0C976.7 1301.7 968.3 1294.4 960.0 1286.7C951.7 1278.9 941.7 1271.1 933.3 1263.3C925.0 1255.6 914.4 1245.6 910.0 1240.0C905.6 1234.4 905.0 1235.6 906.7 1230.0C908.3 1224.4 913.9 1215.6 920.0 1206.7C926.1 1197.8 935.6 1186.1 943.3 1176.7C951.1 1167.2 957.2 1158.3 966.7 1150.0C976.1 1141.7 988.9 1132.8 1000.0 1126.7C1011.1 1120.6 1022.2 1117.2 1033.3 1113.3C1044.4 1109.4 1056.7 1107.8 1066.7 1103.3C1076.7 1098.9 1092.2 1093.3 1093.3 1086.7Z" fill="#ff0000" stroke="#ffee00" stroke-width="7" paint-order="stroke" stroke-linejoin="round"/>
<path d="M1140.0 1164.0C1140.0 1161.1 1156.7 1145.1 1166.7 1136.7C1176.7 1128.2 1188.9 1120.6 1200.0 1113.3C1211.1 1106.1 1222.2 1100.6 1233.3 1093.3C1244.4 1086.1 1255.6 1076.7 1266.7 1070.0C1277.8 1063.3 1288.9 1057.5 1300.0 1053.3C1311.1 1049.2 1320.6 1046.6 1333.3 1045.0C1346.1 1043.4 1369.4 1035.3 1376.7 1044.0C1383.9 1052.7 1381.1 1087.3 1376.7 1097.3C1372.2 1107.3 1360.0 1101.8 1350.0 1104.0C1340.0 1106.2 1330.6 1108.4 1316.7 1110.7C1302.8 1112.9 1280.6 1115.1 1266.7 1117.3C1252.8 1119.6 1244.4 1120.7 1233.3 1124.0C1222.2 1127.3 1211.1 1132.3 1200.0 1137.3C1188.9 1142.3 1176.7 1149.6 1166.7 1154.0C1156.7 1158.4 1140.0 1166.9 1140.0 1164.0Z" fill="#ff0000" stroke="#ffee00" stroke-width="7" paint-order="stroke" stroke-linejoin="round"/>
<path d="M986.7 1250.0C991.1 1244.4 1010.0 1242.8 1020.0 1240.0C1030.0 1237.2 1042.8 1230.0 1046.7 1233.3C1050.6 1236.7 1042.2 1252.8 1043.3 1260.0C1044.4 1267.2 1048.3 1272.8 1053.3 1276.7C1058.3 1280.6 1065.6 1282.8 1073.3 1283.3C1081.1 1283.9 1090.0 1281.7 1100.0 1280.0C1110.0 1278.3 1122.2 1274.4 1133.3 1273.3C1144.4 1272.2 1155.6 1271.1 1166.7 1273.3C1177.8 1275.6 1190.0 1281.1 1200.0 1286.7C1210.0 1292.2 1218.9 1298.9 1226.7 1306.7C1234.4 1314.4 1242.1 1324.4 1246.7 1333.3C1251.2 1342.2 1254.0 1352.1 1254.0 1360.0C1254.0 1367.9 1252.9 1376.1 1246.7 1380.7C1240.4 1385.2 1230.0 1386.2 1216.7 1387.3C1203.3 1388.4 1183.3 1389.6 1166.7 1387.3C1150.0 1385.1 1132.2 1379.7 1116.7 1374.0C1101.1 1368.3 1087.2 1361.2 1073.3 1353.3C1059.4 1345.4 1044.4 1335.6 1033.3 1326.7C1022.2 1317.8 1013.3 1308.9 1006.7 1300.0C1000.0 1291.1 996.7 1281.7 993.3 1273.3C990.0 1265.0 982.2 1255.6 986.7 1250.0Z" fill="#ff0000" stroke="#ffee00" stroke-width="7" paint-order="stroke" stroke-linejoin="round"/>
<path d="M1240.0 1263.3C1244.4 1257.8 1248.3 1254.7 1253.3 1253.3C1258.3 1251.9 1265.6 1251.7 1270.0 1255.0C1274.4 1258.3 1276.1 1268.6 1280.0 1273.3C1283.9 1278.1 1286.1 1282.7 1293.3 1283.3C1300.6 1284.0 1313.3 1279.4 1323.3 1277.3C1333.3 1275.2 1344.4 1272.6 1353.3 1270.7C1362.2 1268.8 1372.8 1247.1 1376.7 1266.0C1380.6 1284.9 1383.9 1364.9 1376.7 1384.0C1369.4 1403.1 1346.1 1382.3 1333.3 1380.7C1320.6 1379.0 1312.2 1377.3 1300.0 1374.0C1287.8 1370.7 1268.3 1366.9 1260.0 1360.7C1251.7 1354.4 1254.4 1345.1 1250.0 1336.7C1245.6 1328.2 1237.2 1318.3 1233.3 1310.0C1229.4 1301.7 1225.6 1294.4 1226.7 1286.7C1227.8 1278.9 1235.6 1268.9 1240.0 1263.3Z" fill="#ff0000" stroke="#ffee00" stroke-width="7" paint-order="stroke" stroke-linejoin="round"/>
<path d="M913.3 1233.3C912.2 1223.3 920.6 1211.1 926.7 1200.0C932.8 1188.9 941.1 1176.7 950.0 1166.7C958.9 1156.7 968.9 1147.8 980.0 1140.0C991.1 1132.2 1005.0 1124.4 1016.7 1120.0C1028.3 1115.6 1038.9 1113.3 1050.0 1113.3C1061.1 1113.3 1073.3 1117.8 1083.3 1120.0C1093.3 1122.2 1102.8 1128.9 1110.0 1126.7C1117.2 1124.4 1122.8 1112.1 1126.7 1106.7C1130.6 1101.2 1130.6 1092.3 1133.3 1094.0C1136.1 1095.7 1142.2 1109.0 1143.3 1116.7C1144.4 1124.3 1143.9 1131.7 1140.0 1140.0C1136.1 1148.3 1128.3 1157.8 1120.0 1166.7C1111.7 1175.6 1100.0 1185.0 1090.0 1193.3C1080.0 1201.7 1069.4 1210.6 1060.0 1216.7C1050.6 1222.8 1043.3 1226.7 1033.3 1230.0C1023.3 1233.3 1008.3 1233.9 1000.0 1236.7C991.7 1239.4 985.0 1242.8 983.3 1246.7C981.7 1250.6 984.4 1253.3 990.0 1260.0C995.6 1266.7 1006.7 1277.8 1016.7 1286.7C1026.7 1295.6 1038.9 1304.4 1050.0 1313.3C1061.1 1322.2 1072.2 1331.7 1083.3 1340.0C1094.4 1348.3 1105.6 1356.7 1116.7 1363.3C1127.8 1370.0 1138.9 1375.6 1150.0 1380.0C1161.1 1384.4 1172.2 1386.1 1183.3 1390.0C1194.4 1393.9 1207.1 1397.1 1216.7 1403.3C1226.2 1409.6 1237.9 1420.0 1240.7 1427.3C1243.4 1434.7 1241.2 1442.9 1233.3 1447.3C1225.4 1451.8 1207.2 1454.0 1193.3 1454.0C1179.4 1454.0 1162.8 1450.1 1150.0 1447.3C1137.2 1444.6 1127.8 1441.8 1116.7 1437.3C1105.6 1432.9 1094.4 1427.3 1083.3 1420.7C1072.2 1414.0 1061.1 1405.7 1050.0 1397.3C1038.9 1389.0 1026.1 1380.2 1016.7 1370.7C1007.2 1361.1 1000.6 1349.6 993.3 1340.0C986.1 1330.4 980.0 1322.8 973.3 1313.3C966.7 1303.9 960.0 1292.2 953.3 1283.3C946.7 1274.4 940.0 1268.3 933.3 1260.0C926.7 1251.7 914.4 1243.3 913.3 1233.3Z" fill="#0000ff" stroke="#00ffff" stroke-width="7" paint-order="stroke" stroke-linejoin="round"/>
<path d="M1046.7 1253.3C1046.7 1247.7 1053.9 1243.3 1060.0 1240.0C1066.1 1236.7 1076.7 1233.9 1083.3 1233.3C1090.0 1232.8 1097.8 1232.2 1100.0 1236.7C1102.2 1241.1 1100.0 1253.8 1096.7 1260.0C1093.3 1266.2 1086.1 1271.7 1080.0 1274.0C1073.9 1276.3 1065.6 1277.4 1060.0 1274.0C1054.4 1270.6 1046.7 1259.0 1046.7 1253.3Z" fill="#0000ff" stroke="#00ffff" stroke-width="7" paint-order="stroke" stroke-linejoin="round"/>
<path d="M1116.7 1253.3C1115.6 1246.6 1127.8 1232.7 1133.3 1226.7C1138.9 1220.7 1144.4 1215.7 1150.0 1217.3C1155.6 1219.0 1162.7 1228.9 1166.7 1236.7C1170.7 1244.4 1178.4 1258.9 1174.0 1264.0C1169.6 1269.1 1149.6 1269.1 1140.0 1267.3C1130.4 1265.6 1117.8 1260.1 1116.7 1253.3Z" fill="#ff0000" stroke="#ffee00" stroke-width="7" paint-order="stroke" stroke-linejoin="round"/>
<path d="M1096.7 1210.0C1100.6 1202.7 1116.1 1191.7 1126.7 1183.3C1137.2 1175.0 1148.9 1167.2 1160.0 1160.0C1171.1 1152.8 1181.1 1146.1 1193.3 1140.0C1205.6 1133.9 1218.3 1127.1 1233.3 1123.3C1248.3 1119.6 1266.7 1118.3 1283.3 1117.3C1300.0 1116.3 1317.8 1117.4 1333.3 1117.3C1348.9 1117.2 1369.4 1094.0 1376.7 1116.7C1383.9 1139.3 1381.1 1229.0 1376.7 1253.3C1372.2 1277.7 1358.9 1260.6 1350.0 1262.7C1341.1 1264.8 1331.1 1266.6 1323.3 1266.0C1315.6 1265.4 1307.8 1261.4 1303.3 1259.3C1298.9 1257.2 1299.4 1254.8 1296.7 1253.3C1293.9 1251.9 1291.7 1251.7 1286.7 1250.7C1281.7 1249.7 1273.3 1247.3 1266.7 1247.3C1260.0 1247.3 1252.2 1247.3 1246.7 1250.7C1241.1 1254.0 1238.3 1264.0 1233.3 1267.3C1228.3 1270.7 1222.2 1273.0 1216.7 1270.7C1211.1 1268.3 1205.6 1260.7 1200.0 1253.3C1194.4 1246.0 1188.9 1233.8 1183.3 1226.7C1177.8 1219.6 1172.8 1213.9 1166.7 1210.7C1160.6 1207.4 1154.4 1205.7 1146.7 1207.3C1138.9 1209.0 1127.2 1217.3 1120.0 1220.7C1112.8 1224.0 1107.2 1229.1 1103.3 1227.3C1099.4 1225.6 1092.8 1217.3 1096.7 1210.0Z" fill="#0000ff" stroke="#00ffff" stroke-width="7" paint-order="stroke" stroke-linejoin="round"/>
<path d="M1350.0 1396.7C1353.3 1394.4 1372.2 1388.9 1376.7 1390.0C1381.1 1391.1 1380.0 1401.1 1376.7 1403.3C1373.3 1405.6 1361.1 1404.4 1356.7 1403.3C1352.2 1402.2 1346.7 1398.9 1350.0 1396.7Z" fill="#0000ff" stroke="#00ffff" stroke-width="7" paint-order="stroke" stroke-linejoin="round"/>
<rect x="72.5" y="1230.5" width="41" height="42" rx="4" fill="#fff" stroke="#000" stroke-width="5"/>
<circle cx="408.3" cy="1236" r="13" fill="#fff" stroke="#000" stroke-width="4.5"/>
</g>
<rect x="58.0" y="1045.0" width="1310" height="413" fill="none" stroke="#00c800" stroke-width="4"/>
</g>
<text class="lab" font-size="106" transform="translate(104.5 172.0) scale(0.956 1)">2</text>
<text class="lab" font-size="106" transform="translate(165.7 172.0) scale(0.869 1)">S</text>
<text class="lab" font-size="103" transform="translate(1524.6 155.0) scale(0.958 1)">2</text>
<text class="lab" font-size="103" transform="translate(1581.9 155.0) scale(0.892 1)">P</text>
<text class="lab" font-size="103" transform="translate(98.7 672.0) scale(0.970 1)">2</text>
<text class="lab" font-size="103" transform="translate(157.4 672.0) scale(0.875 1)">P</text>
<text class="lab" font-size="103" transform="translate(1540.3 671.4) scale(0.946 1)">2</text>
<text class="lab" font-size="103" transform="translate(1602.6 671.4) scale(0.917 1)">T</text>
<text class="lab" font-size="104" transform="translate(112.2 1144.4) scale(0.937 1)">2</text>
<text class="lab" font-size="104" transform="translate(170.0 1144.4) scale(0.885 1)">P</text>
<text class="lab" font-size="103" transform="translate(1482.7 1136.8) scale(0.946 1)">2</text>
<text class="lab" font-size="103" transform="translate(1542.6 1136.8) scale(0.893 1)">S</text>
<text class="lab" font-size="103" transform="translate(1637.6 1139.8) scale(1.013 1)">-</text>
<text class="lab" font-size="103" transform="translate(1701.3 1136.8) scale(0.897 1)">8</text>
<text class="cap" font-size="67" transform="translate(401.6 533.0) scale(1.249 1)">(</text>
<text class="cap" font-size="67" transform="translate(428.4 533.0) scale(0.858 1)">a</text>
<text class="cap" font-size="67" transform="translate(456.1 533.0) scale(1.017 1)">)</text>
<text class="cap" font-size="67" font-style="italic" transform="translate(497.9 533.0) scale(0.958 1)">d</text>
<text class="cap" font-size="67" font-style="italic" transform="translate(541.9 533.0) scale(0.944 1)">/</text>
<text class="cap" font-size="67" font-style="italic" transform="translate(573.6 533.0) scale(0.761 1)">D</text>
<text class="cap" font-size="67" transform="translate(634.3 533.0) scale(1.296 1)">=</text>
<text class="cap" font-size="67" transform="translate(699.1 533.0) scale(1.021 1)">0</text>
<text class="cap" font-size="67" transform="translate(734.0 533.0) scale(0.700 1)">.</text>
<text class="cap" font-size="67" transform="translate(747.9 533.0) scale(1.035 1)">2</text>
<text class="cap" font-size="67" transform="translate(782.4 533.0) scale(1.012 1)">,</text>
<text class="cap" font-size="67" font-style="italic" transform="translate(814.1 533.0) scale(0.800 1)">U</text>
<text class="cap" font-size="54" font-style="italic" transform="translate(854.4 547.0) scale(1.133 1)">r</text>
<text class="cap" font-size="67" transform="translate(904.5 533.0) scale(1.254 1)">=</text>
<text class="cap" font-size="67" transform="translate(968.1 533.0) scale(0.889 1)">4</text>
<text class="cap" font-size="67" transform="translate(1815.5 533.0) scale(1.255 1)">(</text>
<text class="cap" font-size="67" transform="translate(1848.2 533.0) scale(0.895 1)">b</text>
<text class="cap" font-size="67" transform="translate(1877.0 533.0) scale(1.052 1)">)</text>
<text class="cap" font-size="67" font-style="italic" transform="translate(1918.1 533.0) scale(0.958 1)">d</text>
<text class="cap" font-size="67" font-style="italic" transform="translate(1961.0 533.0) scale(1.038 1)">/</text>
<text class="cap" font-size="67" font-style="italic" transform="translate(1993.8 533.0) scale(0.785 1)">D</text>
<text class="cap" font-size="67" transform="translate(2055.7 533.0) scale(1.296 1)">=</text>
<text class="cap" font-size="67" transform="translate(2119.2 533.0) scale(1.067 1)">0</text>
<text class="cap" font-size="67" transform="translate(2153.7 533.0) scale(0.796 1)">.</text>
<text class="cap" font-size="67" transform="translate(2166.7 533.0) scale(1.080 1)">2</text>
<text class="cap" font-size="67" transform="translate(2202.6 533.0) scale(1.012 1)">,</text>
<text class="cap" font-size="67" font-style="italic" transform="translate(2235.5 533.0) scale(0.800 1)">U</text>
<text class="cap" font-size="54" font-style="italic" transform="translate(2274.4 547.0) scale(1.196 1)">r</text>
<text class="cap" font-size="67" transform="translate(2324.5 533.0) scale(1.296 1)">=</text>
<text class="cap" font-size="67" transform="translate(2384.5 533.0) scale(1.075 1)">7</text>
<text class="cap" font-size="67" transform="translate(401.6 1028.0) scale(1.249 1)">(</text>
<text class="cap" font-size="67" transform="translate(428.0 1028.0) scale(0.955 1)">c</text>
<text class="cap" font-size="67" transform="translate(456.1 1028.0) scale(1.017 1)">)</text>
<text class="cap" font-size="67" font-style="italic" transform="translate(497.9 1028.0) scale(0.958 1)">d</text>
<text class="cap" font-size="67" font-style="italic" transform="translate(542.0 1028.0) scale(0.989 1)">/</text>
<text class="cap" font-size="67" font-style="italic" transform="translate(572.3 1028.0) scale(0.788 1)">D</text>
<text class="cap" font-size="67" transform="translate(632.8 1028.0) scale(1.341 1)">=</text>
<text class="cap" font-size="67" transform="translate(697.7 1028.0) scale(1.067 1)">0</text>
<text class="cap" font-size="67" transform="translate(732.2 1028.0) scale(0.808 1)">.</text>
<text class="cap" font-size="67" transform="translate(748.4 1028.0) scale(0.982 1)">5</text>
<text class="cap" font-size="67" transform="translate(782.4 1028.0) scale(1.012 1)">,</text>
<text class="cap" font-size="67" font-style="italic" transform="translate(812.7 1028.0) scale(0.826 1)">U</text>
<text class="cap" font-size="54" font-style="italic" transform="translate(853.0 1042.0) scale(1.196 1)">r</text>
<text class="cap" font-size="67" transform="translate(904.5 1028.0) scale(1.254 1)">=</text>
<text class="cap" font-size="67" transform="translate(968.0 1028.0) scale(0.979 1)">8</text>
<text class="cap" font-size="67" transform="translate(1823.4 1027.6) scale(1.110 1)">(</text>
<text class="cap" font-size="67" transform="translate(1845.9 1027.6) scale(0.915 1)">d</text>
<text class="cap" font-size="67" transform="translate(1878.9 1027.6) scale(0.953 1)">)</text>
<text class="cap" font-size="67" font-style="italic" transform="translate(1918.1 1027.6) scale(0.958 1)">d</text>
<text class="cap" font-size="67" font-style="italic" transform="translate(1961.1 1027.6) scale(1.041 1)">/</text>
<text class="cap" font-size="67" font-style="italic" transform="translate(1993.8 1027.6) scale(0.785 1)">D</text>
<text class="cap" font-size="67" transform="translate(2055.7 1027.6) scale(1.296 1)">=</text>
<text class="cap" font-size="67" transform="translate(2122.9 1027.6) scale(0.912 1)">1</text>
<text class="cap" font-size="67" transform="translate(2153.7 1027.6) scale(0.796 1)">.</text>
<text class="cap" font-size="67" transform="translate(2168.4 1027.6) scale(1.067 1)">0</text>
<text class="cap" font-size="67" transform="translate(2202.6 1027.6) scale(1.012 1)">,</text>
<text class="cap" font-size="67" font-style="italic" transform="translate(2234.2 1027.6) scale(0.826 1)">U</text>
<text class="cap" font-size="54" font-style="italic" transform="translate(2274.4 1041.6) scale(1.196 1)">r</text>
<text class="cap" font-size="67" transform="translate(2323.1 1027.6) scale(1.338 1)">=</text>
<text class="cap" font-size="67" transform="translate(2388.0 1027.6) scale(1.025 1)">8</text>
<text class="cap" font-size="67" transform="translate(394.5 1522.0) scale(1.104 1)">(</text>
<text class="cap" font-size="67" transform="translate(416.1 1522.0) scale(0.874 1)">f</text>
<text class="cap" font-size="67" transform="translate(437.2 1522.0) scale(0.959 1)">)</text>
<text class="cap" font-size="67" font-style="italic" transform="translate(476.4 1522.0) scale(0.999 1)">d</text>
<text class="cap" font-size="67" font-style="italic" transform="translate(521.9 1522.0) scale(0.989 1)">/</text>
<text class="cap" font-size="67" font-style="italic" transform="translate(552.3 1522.0) scale(0.812 1)">D</text>
<text class="cap" font-size="67" transform="translate(614.4 1522.0) scale(1.254 1)">=</text>
<text class="cap" font-size="67" transform="translate(680.7 1522.0) scale(0.801 1)">1</text>
<text class="cap" font-size="67" transform="translate(708.9 1522.0) scale(0.960 1)">.</text>
<text class="cap" font-size="67" transform="translate(727.0 1522.0) scale(0.982 1)">5</text>
<text class="cap" font-size="67" transform="translate(761.1 1522.0) scale(1.012 1)">,</text>
<text class="cap" font-size="67" font-style="italic" transform="translate(792.6 1522.0) scale(0.826 1)">U</text>
<text class="cap" font-size="54" font-style="italic" transform="translate(832.8 1536.0) scale(1.264 1)">r</text>
<text class="cap" font-size="67" transform="translate(881.7 1522.0) scale(1.296 1)">=</text>
<text class="cap" font-size="67" transform="translate(949.1 1522.0) scale(0.856 1)">1</text>
<text class="cap" font-size="67" transform="translate(981.7 1522.0) scale(1.067 1)">0</text>
<text class="cap" font-size="67" transform="translate(1819.3 1522.0) scale(1.215 1)">(</text>
<text class="cap" font-size="67" transform="translate(1845.5 1522.0) scale(1.016 1)">e</text>
<text class="cap" font-size="67" transform="translate(1874.8 1522.0) scale(1.098 1)">)</text>
<text class="cap" font-size="67" font-style="italic" transform="translate(1916.7 1522.0) scale(0.999 1)">d</text>
<text class="cap" font-size="67" font-style="italic" transform="translate(1960.9 1522.0) scale(0.993 1)">/</text>
<text class="cap" font-size="67" font-style="italic" transform="translate(1991.3 1522.0) scale(0.812 1)">D</text>
<text class="cap" font-size="67" transform="translate(2051.9 1522.0) scale(1.299 1)">=</text>
<text class="cap" font-size="67" transform="translate(2116.3 1522.0) scale(1.035 1)">2</text>
<text class="cap" font-size="67" transform="translate(2150.5 1522.0) scale(0.960 1)">.</text>
<text class="cap" font-size="67" transform="translate(2167.2 1522.0) scale(1.021 1)">0</text>
<text class="cap" font-size="67" transform="translate(2202.6 1522.0) scale(1.012 1)">,</text>
<text class="cap" font-size="67" font-style="italic" transform="translate(2232.7 1522.0) scale(0.855 1)">U</text>
<text class="cap" font-size="54" font-style="italic" transform="translate(2273.2 1536.0) scale(1.196 1)">r</text>
<text class="cap" font-size="67" transform="translate(2321.9 1522.0) scale(1.299 1)">=</text>
<text class="cap" font-size="67" transform="translate(2386.6 1522.0) scale(1.028 1)">8</text>
</svg></body></html>
